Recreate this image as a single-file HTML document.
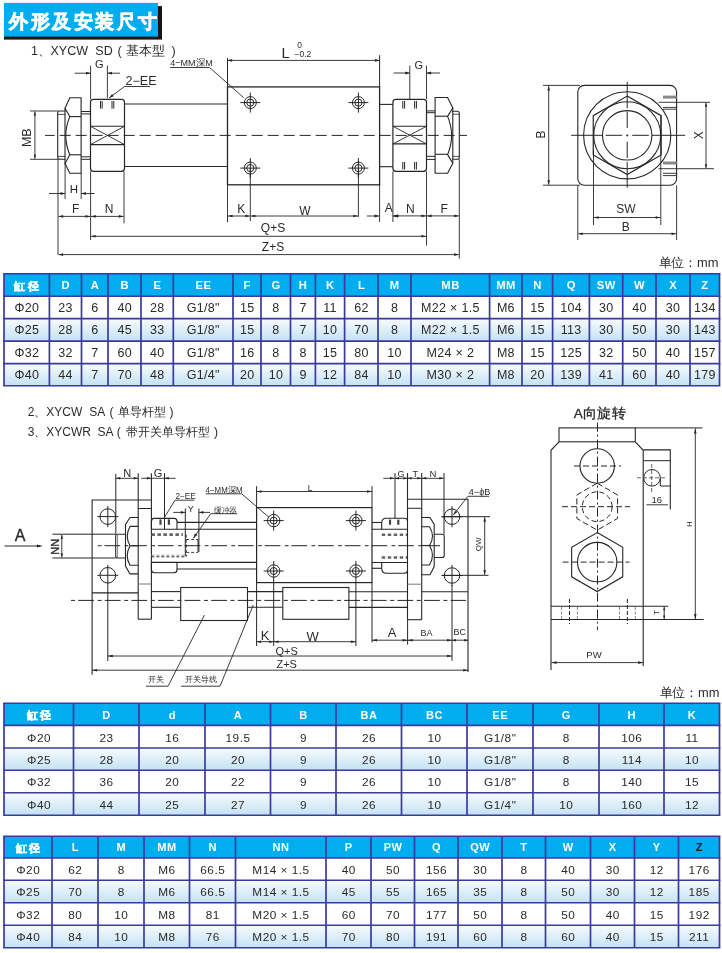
<!DOCTYPE html><html><head><meta charset="utf-8"><style>
html,body{margin:0;padding:0;background:#fff;}
body{width:722px;height:953px;overflow:hidden;}
svg{display:block;will-change:transform;font-family:"Liberation Sans",sans-serif;}
</style></head><body>
<svg width="722" height="953" viewBox="0 0 722 953">
<defs>
<linearGradient id="rowg" x1="0" y1="0" x2="0" y2="1">
<stop offset="0" stop-color="#f7fbfe"/><stop offset="1" stop-color="#c3e2f4"/>
</linearGradient>
<marker id="ar" viewBox="0 0 10 6" refX="10" refY="3" markerWidth="10" markerHeight="6" markerUnits="userSpaceOnUse" orient="auto-start-reverse"><path d="M0,0 L10,3 L0,6 z" fill="#262626"/></marker>
</defs>

<rect x="4" y="6.1" width="158" height="33.5" fill="#161616"/>
<rect x="4" y="2.9" width="154" height="33.7" fill="#00aeef"/>
<text x="9.3" y="27.9" font-size="19.4" font-weight="bold" letter-spacing="2.45" fill="#fff" stroke="#fff" stroke-width="0.7">外形及安装尺寸</text>
<text x="31" y="55" font-size="12.5" fill="#2a2a2a">1、</text>
<text x="50.5" y="55" font-size="12.5" fill="#2a2a2a">XYCW</text>
<text x="95.3" y="55" font-size="12.5" fill="#2a2a2a">SD</text>
<text x="117.5" y="55" font-size="12.5" fill="#2a2a2a">(</text>
<text x="126" y="55" font-size="12.5" fill="#2a2a2a">基本型</text>
<text x="171.5" y="55" font-size="12.5" fill="#2a2a2a">)</text>
<text x="27.8" y="416" font-size="12" fill="#2a2a2a">2、</text>
<text x="46.3" y="416" font-size="12" fill="#2a2a2a">XYCW</text>
<text x="89.2" y="416" font-size="12" fill="#2a2a2a">SA</text>
<text x="109.5" y="416" font-size="12" fill="#2a2a2a">(</text>
<text x="118" y="416" font-size="12" fill="#2a2a2a">单导杆型</text>
<text x="169.5" y="416" font-size="12" fill="#2a2a2a">)</text>
<text x="27.8" y="435.5" font-size="12" fill="#2a2a2a">3、</text>
<text x="46.3" y="435.5" font-size="12" fill="#2a2a2a">XYCWR</text>
<text x="97.5" y="435.5" font-size="12" fill="#2a2a2a">SA</text>
<text x="116.8" y="435.5" font-size="12" fill="#2a2a2a">(</text>
<text x="126.3" y="435.5" font-size="12" fill="#2a2a2a">带开关单导杆型</text>
<text x="214" y="435.5" font-size="12" fill="#2a2a2a">)</text>
<text x="658.5" y="267.3" font-size="13" textLength="60" lengthAdjust="spacingAndGlyphs" fill="#2a2a2a">单位：mm</text>
<text x="659.5" y="697" font-size="13" textLength="60" lengthAdjust="spacingAndGlyphs" fill="#2a2a2a">单位：mm</text>
<rect x="4" y="273.7" width="715.5" height="22.600000000000023" fill="#00aeef"/>
<rect x="4" y="296.3" width="715.5" height="22.30000000000001" fill="#ffffff"/>
<rect x="4" y="318.6" width="715.5" height="22.5" fill="url(#rowg)"/>
<rect x="4" y="341.1" width="715.5" height="22.5" fill="#ffffff"/>
<rect x="4" y="363.6" width="715.5" height="22.099999999999966" fill="url(#rowg)"/>
<text x="27.9" y="289.6" text-anchor="middle" font-size="10.7" font-weight="bold" letter-spacing="2.5" stroke="#ffffff" stroke-width="0.45" fill="#ffffff">缸径</text>
<text x="65.8" y="289.3" text-anchor="middle" font-size="11.2" font-weight="bold" letter-spacing="0.6" fill="#ffffff">D</text>
<text x="95.0" y="289.3" text-anchor="middle" font-size="11.2" font-weight="bold" letter-spacing="0.6" fill="#ffffff">A</text>
<text x="124.8" y="289.3" text-anchor="middle" font-size="11.2" font-weight="bold" letter-spacing="0.6" fill="#ffffff">B</text>
<text x="157.5" y="289.3" text-anchor="middle" font-size="11.2" font-weight="bold" letter-spacing="0.6" fill="#ffffff">E</text>
<text x="203.5" y="289.3" text-anchor="middle" font-size="11.2" font-weight="bold" letter-spacing="0.6" fill="#ffffff">EE</text>
<text x="247.3" y="289.3" text-anchor="middle" font-size="11.2" font-weight="bold" letter-spacing="0.6" fill="#ffffff">F</text>
<text x="276.1" y="289.3" text-anchor="middle" font-size="11.2" font-weight="bold" letter-spacing="0.6" fill="#ffffff">G</text>
<text x="303.2" y="289.3" text-anchor="middle" font-size="11.2" font-weight="bold" letter-spacing="0.6" fill="#ffffff">H</text>
<text x="330.3" y="289.3" text-anchor="middle" font-size="11.2" font-weight="bold" letter-spacing="0.6" fill="#ffffff">K</text>
<text x="361.6" y="289.3" text-anchor="middle" font-size="11.2" font-weight="bold" letter-spacing="0.6" fill="#ffffff">L</text>
<text x="394.8" y="289.3" text-anchor="middle" font-size="11.2" font-weight="bold" letter-spacing="0.6" fill="#ffffff">M</text>
<text x="450.6" y="289.3" text-anchor="middle" font-size="11.2" font-weight="bold" letter-spacing="0.6" fill="#ffffff">MB</text>
<text x="506.1" y="289.3" text-anchor="middle" font-size="11.2" font-weight="bold" letter-spacing="0.6" fill="#ffffff">MM</text>
<text x="537.6" y="289.3" text-anchor="middle" font-size="11.2" font-weight="bold" letter-spacing="0.6" fill="#ffffff">N</text>
<text x="571.3" y="289.3" text-anchor="middle" font-size="11.2" font-weight="bold" letter-spacing="0.6" fill="#ffffff">Q</text>
<text x="606.3" y="289.3" text-anchor="middle" font-size="11.2" font-weight="bold" letter-spacing="0.6" fill="#ffffff">SW</text>
<text x="639.6" y="289.3" text-anchor="middle" font-size="11.2" font-weight="bold" letter-spacing="0.6" fill="#ffffff">W</text>
<text x="673.3" y="289.3" text-anchor="middle" font-size="11.2" font-weight="bold" letter-spacing="0.6" fill="#ffffff">X</text>
<text x="705.0" y="289.3" text-anchor="middle" font-size="11.2" font-weight="bold" letter-spacing="0.6" fill="#ffffff">Z</text>
<text x="26.8" y="311.8" text-anchor="middle" font-size="12.5" letter-spacing="0.3" fill="#2a2a2a">Φ20</text>
<text x="65.6" y="311.8" text-anchor="middle" font-size="12.5" letter-spacing="0.3" fill="#2a2a2a">23</text>
<text x="94.9" y="311.8" text-anchor="middle" font-size="12.5" letter-spacing="0.3" fill="#2a2a2a">6</text>
<text x="124.7" y="311.8" text-anchor="middle" font-size="12.5" letter-spacing="0.3" fill="#2a2a2a">40</text>
<text x="157.3" y="311.8" text-anchor="middle" font-size="12.5" letter-spacing="0.3" fill="#2a2a2a">28</text>
<text x="203.3" y="311.8" text-anchor="middle" font-size="12.5" letter-spacing="0.3" fill="#2a2a2a">G1/8&quot;</text>
<text x="247.2" y="311.8" text-anchor="middle" font-size="12.5" letter-spacing="0.3" fill="#2a2a2a">15</text>
<text x="275.9" y="311.8" text-anchor="middle" font-size="12.5" letter-spacing="0.3" fill="#2a2a2a">8</text>
<text x="303.1" y="311.8" text-anchor="middle" font-size="12.5" letter-spacing="0.3" fill="#2a2a2a">7</text>
<text x="330.1" y="311.8" text-anchor="middle" font-size="12.5" letter-spacing="0.3" fill="#2a2a2a">11</text>
<text x="361.4" y="311.8" text-anchor="middle" font-size="12.5" letter-spacing="0.3" fill="#2a2a2a">62</text>
<text x="394.6" y="311.8" text-anchor="middle" font-size="12.5" letter-spacing="0.3" fill="#2a2a2a">8</text>
<text x="450.4" y="311.8" text-anchor="middle" font-size="12.5" letter-spacing="0.3" fill="#2a2a2a">M22 × 1.5</text>
<text x="505.9" y="311.8" text-anchor="middle" font-size="12.5" letter-spacing="0.3" fill="#2a2a2a">M6</text>
<text x="537.4" y="311.8" text-anchor="middle" font-size="12.5" letter-spacing="0.3" fill="#2a2a2a">15</text>
<text x="571.1" y="311.8" text-anchor="middle" font-size="12.5" letter-spacing="0.3" fill="#2a2a2a">104</text>
<text x="606.2" y="311.8" text-anchor="middle" font-size="12.5" letter-spacing="0.3" fill="#2a2a2a">30</text>
<text x="639.5" y="311.8" text-anchor="middle" font-size="12.5" letter-spacing="0.3" fill="#2a2a2a">40</text>
<text x="673.1" y="311.8" text-anchor="middle" font-size="12.5" letter-spacing="0.3" fill="#2a2a2a">30</text>
<text x="704.9" y="311.8" text-anchor="middle" font-size="12.5" letter-spacing="0.3" fill="#2a2a2a">134</text>
<text x="26.8" y="334.2" text-anchor="middle" font-size="12.5" letter-spacing="0.3" fill="#2a2a2a">Φ25</text>
<text x="65.6" y="334.2" text-anchor="middle" font-size="12.5" letter-spacing="0.3" fill="#2a2a2a">28</text>
<text x="94.9" y="334.2" text-anchor="middle" font-size="12.5" letter-spacing="0.3" fill="#2a2a2a">6</text>
<text x="124.7" y="334.2" text-anchor="middle" font-size="12.5" letter-spacing="0.3" fill="#2a2a2a">45</text>
<text x="157.3" y="334.2" text-anchor="middle" font-size="12.5" letter-spacing="0.3" fill="#2a2a2a">33</text>
<text x="203.3" y="334.2" text-anchor="middle" font-size="12.5" letter-spacing="0.3" fill="#2a2a2a">G1/8&quot;</text>
<text x="247.2" y="334.2" text-anchor="middle" font-size="12.5" letter-spacing="0.3" fill="#2a2a2a">15</text>
<text x="275.9" y="334.2" text-anchor="middle" font-size="12.5" letter-spacing="0.3" fill="#2a2a2a">8</text>
<text x="303.1" y="334.2" text-anchor="middle" font-size="12.5" letter-spacing="0.3" fill="#2a2a2a">7</text>
<text x="330.1" y="334.2" text-anchor="middle" font-size="12.5" letter-spacing="0.3" fill="#2a2a2a">10</text>
<text x="361.4" y="334.2" text-anchor="middle" font-size="12.5" letter-spacing="0.3" fill="#2a2a2a">70</text>
<text x="394.6" y="334.2" text-anchor="middle" font-size="12.5" letter-spacing="0.3" fill="#2a2a2a">8</text>
<text x="450.4" y="334.2" text-anchor="middle" font-size="12.5" letter-spacing="0.3" fill="#2a2a2a">M22 × 1.5</text>
<text x="505.9" y="334.2" text-anchor="middle" font-size="12.5" letter-spacing="0.3" fill="#2a2a2a">M6</text>
<text x="537.4" y="334.2" text-anchor="middle" font-size="12.5" letter-spacing="0.3" fill="#2a2a2a">15</text>
<text x="571.1" y="334.2" text-anchor="middle" font-size="12.5" letter-spacing="0.3" fill="#2a2a2a">113</text>
<text x="606.2" y="334.2" text-anchor="middle" font-size="12.5" letter-spacing="0.3" fill="#2a2a2a">30</text>
<text x="639.5" y="334.2" text-anchor="middle" font-size="12.5" letter-spacing="0.3" fill="#2a2a2a">50</text>
<text x="673.1" y="334.2" text-anchor="middle" font-size="12.5" letter-spacing="0.3" fill="#2a2a2a">30</text>
<text x="704.9" y="334.2" text-anchor="middle" font-size="12.5" letter-spacing="0.3" fill="#2a2a2a">143</text>
<text x="26.8" y="356.7" text-anchor="middle" font-size="12.5" letter-spacing="0.3" fill="#2a2a2a">Φ32</text>
<text x="65.6" y="356.7" text-anchor="middle" font-size="12.5" letter-spacing="0.3" fill="#2a2a2a">32</text>
<text x="94.9" y="356.7" text-anchor="middle" font-size="12.5" letter-spacing="0.3" fill="#2a2a2a">7</text>
<text x="124.7" y="356.7" text-anchor="middle" font-size="12.5" letter-spacing="0.3" fill="#2a2a2a">60</text>
<text x="157.3" y="356.7" text-anchor="middle" font-size="12.5" letter-spacing="0.3" fill="#2a2a2a">40</text>
<text x="203.3" y="356.7" text-anchor="middle" font-size="12.5" letter-spacing="0.3" fill="#2a2a2a">G1/8&quot;</text>
<text x="247.2" y="356.7" text-anchor="middle" font-size="12.5" letter-spacing="0.3" fill="#2a2a2a">16</text>
<text x="275.9" y="356.7" text-anchor="middle" font-size="12.5" letter-spacing="0.3" fill="#2a2a2a">8</text>
<text x="303.1" y="356.7" text-anchor="middle" font-size="12.5" letter-spacing="0.3" fill="#2a2a2a">8</text>
<text x="330.1" y="356.7" text-anchor="middle" font-size="12.5" letter-spacing="0.3" fill="#2a2a2a">15</text>
<text x="361.4" y="356.7" text-anchor="middle" font-size="12.5" letter-spacing="0.3" fill="#2a2a2a">80</text>
<text x="394.6" y="356.7" text-anchor="middle" font-size="12.5" letter-spacing="0.3" fill="#2a2a2a">10</text>
<text x="450.4" y="356.7" text-anchor="middle" font-size="12.5" letter-spacing="0.3" fill="#2a2a2a">M24 × 2</text>
<text x="505.9" y="356.7" text-anchor="middle" font-size="12.5" letter-spacing="0.3" fill="#2a2a2a">M8</text>
<text x="537.4" y="356.7" text-anchor="middle" font-size="12.5" letter-spacing="0.3" fill="#2a2a2a">15</text>
<text x="571.1" y="356.7" text-anchor="middle" font-size="12.5" letter-spacing="0.3" fill="#2a2a2a">125</text>
<text x="606.2" y="356.7" text-anchor="middle" font-size="12.5" letter-spacing="0.3" fill="#2a2a2a">32</text>
<text x="639.5" y="356.7" text-anchor="middle" font-size="12.5" letter-spacing="0.3" fill="#2a2a2a">50</text>
<text x="673.1" y="356.7" text-anchor="middle" font-size="12.5" letter-spacing="0.3" fill="#2a2a2a">40</text>
<text x="704.9" y="356.7" text-anchor="middle" font-size="12.5" letter-spacing="0.3" fill="#2a2a2a">157</text>
<text x="26.8" y="378.9" text-anchor="middle" font-size="12.5" letter-spacing="0.3" fill="#2a2a2a">Φ40</text>
<text x="65.6" y="378.9" text-anchor="middle" font-size="12.5" letter-spacing="0.3" fill="#2a2a2a">44</text>
<text x="94.9" y="378.9" text-anchor="middle" font-size="12.5" letter-spacing="0.3" fill="#2a2a2a">7</text>
<text x="124.7" y="378.9" text-anchor="middle" font-size="12.5" letter-spacing="0.3" fill="#2a2a2a">70</text>
<text x="157.3" y="378.9" text-anchor="middle" font-size="12.5" letter-spacing="0.3" fill="#2a2a2a">48</text>
<text x="203.3" y="378.9" text-anchor="middle" font-size="12.5" letter-spacing="0.3" fill="#2a2a2a">G1/4&quot;</text>
<text x="247.2" y="378.9" text-anchor="middle" font-size="12.5" letter-spacing="0.3" fill="#2a2a2a">20</text>
<text x="275.9" y="378.9" text-anchor="middle" font-size="12.5" letter-spacing="0.3" fill="#2a2a2a">10</text>
<text x="303.1" y="378.9" text-anchor="middle" font-size="12.5" letter-spacing="0.3" fill="#2a2a2a">9</text>
<text x="330.1" y="378.9" text-anchor="middle" font-size="12.5" letter-spacing="0.3" fill="#2a2a2a">12</text>
<text x="361.4" y="378.9" text-anchor="middle" font-size="12.5" letter-spacing="0.3" fill="#2a2a2a">84</text>
<text x="394.6" y="378.9" text-anchor="middle" font-size="12.5" letter-spacing="0.3" fill="#2a2a2a">10</text>
<text x="450.4" y="378.9" text-anchor="middle" font-size="12.5" letter-spacing="0.3" fill="#2a2a2a">M30 × 2</text>
<text x="505.9" y="378.9" text-anchor="middle" font-size="12.5" letter-spacing="0.3" fill="#2a2a2a">M8</text>
<text x="537.4" y="378.9" text-anchor="middle" font-size="12.5" letter-spacing="0.3" fill="#2a2a2a">20</text>
<text x="571.1" y="378.9" text-anchor="middle" font-size="12.5" letter-spacing="0.3" fill="#2a2a2a">139</text>
<text x="606.2" y="378.9" text-anchor="middle" font-size="12.5" letter-spacing="0.3" fill="#2a2a2a">41</text>
<text x="639.5" y="378.9" text-anchor="middle" font-size="12.5" letter-spacing="0.3" fill="#2a2a2a">60</text>
<text x="673.1" y="378.9" text-anchor="middle" font-size="12.5" letter-spacing="0.3" fill="#2a2a2a">40</text>
<text x="704.9" y="378.9" text-anchor="middle" font-size="12.5" letter-spacing="0.3" fill="#2a2a2a">179</text>
<line x1="4" y1="273.7" x2="4" y2="385.7" stroke="#3b3a9d" stroke-width="1.7"/>
<line x1="49.4" y1="273.7" x2="49.4" y2="385.7" stroke="#3b3a9d" stroke-width="1.7"/>
<line x1="81.5" y1="273.7" x2="81.5" y2="385.7" stroke="#3b3a9d" stroke-width="1.7"/>
<line x1="108" y1="273.7" x2="108" y2="385.7" stroke="#3b3a9d" stroke-width="1.7"/>
<line x1="141" y1="273.7" x2="141" y2="385.7" stroke="#3b3a9d" stroke-width="1.7"/>
<line x1="173.3" y1="273.7" x2="173.3" y2="385.7" stroke="#3b3a9d" stroke-width="1.7"/>
<line x1="233" y1="273.7" x2="233" y2="385.7" stroke="#3b3a9d" stroke-width="1.7"/>
<line x1="261" y1="273.7" x2="261" y2="385.7" stroke="#3b3a9d" stroke-width="1.7"/>
<line x1="290.5" y1="273.7" x2="290.5" y2="385.7" stroke="#3b3a9d" stroke-width="1.7"/>
<line x1="315.4" y1="273.7" x2="315.4" y2="385.7" stroke="#3b3a9d" stroke-width="1.7"/>
<line x1="344.6" y1="273.7" x2="344.6" y2="385.7" stroke="#3b3a9d" stroke-width="1.7"/>
<line x1="378" y1="273.7" x2="378" y2="385.7" stroke="#3b3a9d" stroke-width="1.7"/>
<line x1="411" y1="273.7" x2="411" y2="385.7" stroke="#3b3a9d" stroke-width="1.7"/>
<line x1="489.6" y1="273.7" x2="489.6" y2="385.7" stroke="#3b3a9d" stroke-width="1.7"/>
<line x1="522" y1="273.7" x2="522" y2="385.7" stroke="#3b3a9d" stroke-width="1.7"/>
<line x1="552.6" y1="273.7" x2="552.6" y2="385.7" stroke="#3b3a9d" stroke-width="1.7"/>
<line x1="589.4" y1="273.7" x2="589.4" y2="385.7" stroke="#3b3a9d" stroke-width="1.7"/>
<line x1="622.7" y1="273.7" x2="622.7" y2="385.7" stroke="#3b3a9d" stroke-width="1.7"/>
<line x1="656" y1="273.7" x2="656" y2="385.7" stroke="#3b3a9d" stroke-width="1.7"/>
<line x1="690" y1="273.7" x2="690" y2="385.7" stroke="#3b3a9d" stroke-width="1.7"/>
<line x1="719.5" y1="273.7" x2="719.5" y2="385.7" stroke="#3b3a9d" stroke-width="1.7"/>
<line x1="3.15" y1="273.7" x2="720.35" y2="273.7" stroke="#3b3a9d" stroke-width="1.6"/>
<line x1="3.15" y1="296.3" x2="720.35" y2="296.3" stroke="#3b3a9d" stroke-width="1.6"/>
<line x1="3.15" y1="318.6" x2="720.35" y2="318.6" stroke="#3b3a9d" stroke-width="1.6"/>
<line x1="3.15" y1="341.1" x2="720.35" y2="341.1" stroke="#3b3a9d" stroke-width="1.6"/>
<line x1="3.15" y1="363.6" x2="720.35" y2="363.6" stroke="#3b3a9d" stroke-width="1.6"/>
<line x1="3.15" y1="385.7" x2="720.35" y2="385.7" stroke="#3b3a9d" stroke-width="1.6"/>
<rect x="4" y="703.2" width="715.5" height="22.199999999999932" fill="#00aeef"/>
<rect x="4" y="725.4" width="715.5" height="22.600000000000023" fill="#ffffff"/>
<rect x="4" y="748" width="715.5" height="22.299999999999955" fill="url(#rowg)"/>
<rect x="4" y="770.3" width="715.5" height="22.40000000000009" fill="#ffffff"/>
<rect x="4" y="792.7" width="715.5" height="22.5" fill="url(#rowg)"/>
<text x="40.0" y="718.9" text-anchor="middle" font-size="10.5" font-weight="bold" letter-spacing="2.5" stroke="#ffffff" stroke-width="0.45" fill="#ffffff">缸径</text>
<text x="106.5" y="718.6" text-anchor="middle" font-size="11" font-weight="bold" letter-spacing="0.6" fill="#ffffff">D</text>
<text x="172.3" y="718.6" text-anchor="middle" font-size="11" font-weight="bold" letter-spacing="0.6" fill="#ffffff">d</text>
<text x="238.1" y="718.6" text-anchor="middle" font-size="11" font-weight="bold" letter-spacing="0.6" fill="#ffffff">A</text>
<text x="303.6" y="718.6" text-anchor="middle" font-size="11" font-weight="bold" letter-spacing="0.6" fill="#ffffff">B</text>
<text x="369.1" y="718.6" text-anchor="middle" font-size="11" font-weight="bold" letter-spacing="0.6" fill="#ffffff">BA</text>
<text x="434.6" y="718.6" text-anchor="middle" font-size="11" font-weight="bold" letter-spacing="0.6" fill="#ffffff">BC</text>
<text x="500.3" y="718.6" text-anchor="middle" font-size="11" font-weight="bold" letter-spacing="0.6" fill="#ffffff">EE</text>
<text x="566.3" y="718.6" text-anchor="middle" font-size="11" font-weight="bold" letter-spacing="0.6" fill="#ffffff">G</text>
<text x="631.8" y="718.6" text-anchor="middle" font-size="11" font-weight="bold" letter-spacing="0.6" fill="#ffffff">H</text>
<text x="692.0" y="718.6" text-anchor="middle" font-size="11" font-weight="bold" letter-spacing="0.6" fill="#ffffff">K</text>
<text x="39.0" y="741.6" text-anchor="middle" font-size="11.8" letter-spacing="0.5" fill="#2a2a2a">Φ20</text>
<text x="106.5" y="741.6" text-anchor="middle" font-size="11.8" letter-spacing="0.5" fill="#2a2a2a">23</text>
<text x="172.2" y="741.6" text-anchor="middle" font-size="11.8" letter-spacing="0.5" fill="#2a2a2a">16</text>
<text x="238.0" y="741.6" text-anchor="middle" font-size="11.8" letter-spacing="0.5" fill="#2a2a2a">19.5</text>
<text x="303.5" y="741.6" text-anchor="middle" font-size="11.8" letter-spacing="0.5" fill="#2a2a2a">9</text>
<text x="369.0" y="741.6" text-anchor="middle" font-size="11.8" letter-spacing="0.5" fill="#2a2a2a">26</text>
<text x="434.5" y="741.6" text-anchor="middle" font-size="11.8" letter-spacing="0.5" fill="#2a2a2a">10</text>
<text x="500.2" y="741.6" text-anchor="middle" font-size="11.8" letter-spacing="0.5" fill="#2a2a2a">G1/8&quot;</text>
<text x="566.2" y="741.6" text-anchor="middle" font-size="11.8" letter-spacing="0.5" fill="#2a2a2a">8</text>
<text x="631.8" y="741.6" text-anchor="middle" font-size="11.8" letter-spacing="0.5" fill="#2a2a2a">106</text>
<text x="692.0" y="741.6" text-anchor="middle" font-size="11.8" letter-spacing="0.5" fill="#2a2a2a">11</text>
<text x="39.0" y="764.0" text-anchor="middle" font-size="11.8" letter-spacing="0.5" fill="#2a2a2a">Φ25</text>
<text x="106.5" y="764.0" text-anchor="middle" font-size="11.8" letter-spacing="0.5" fill="#2a2a2a">28</text>
<text x="172.2" y="764.0" text-anchor="middle" font-size="11.8" letter-spacing="0.5" fill="#2a2a2a">20</text>
<text x="238.0" y="764.0" text-anchor="middle" font-size="11.8" letter-spacing="0.5" fill="#2a2a2a">20</text>
<text x="303.5" y="764.0" text-anchor="middle" font-size="11.8" letter-spacing="0.5" fill="#2a2a2a">9</text>
<text x="369.0" y="764.0" text-anchor="middle" font-size="11.8" letter-spacing="0.5" fill="#2a2a2a">26</text>
<text x="434.5" y="764.0" text-anchor="middle" font-size="11.8" letter-spacing="0.5" fill="#2a2a2a">10</text>
<text x="500.2" y="764.0" text-anchor="middle" font-size="11.8" letter-spacing="0.5" fill="#2a2a2a">G1/8&quot;</text>
<text x="566.2" y="764.0" text-anchor="middle" font-size="11.8" letter-spacing="0.5" fill="#2a2a2a">8</text>
<text x="631.8" y="764.0" text-anchor="middle" font-size="11.8" letter-spacing="0.5" fill="#2a2a2a">114</text>
<text x="692.0" y="764.0" text-anchor="middle" font-size="11.8" letter-spacing="0.5" fill="#2a2a2a">10</text>
<text x="39.0" y="786.4" text-anchor="middle" font-size="11.8" letter-spacing="0.5" fill="#2a2a2a">Φ32</text>
<text x="106.5" y="786.4" text-anchor="middle" font-size="11.8" letter-spacing="0.5" fill="#2a2a2a">36</text>
<text x="172.2" y="786.4" text-anchor="middle" font-size="11.8" letter-spacing="0.5" fill="#2a2a2a">20</text>
<text x="238.0" y="786.4" text-anchor="middle" font-size="11.8" letter-spacing="0.5" fill="#2a2a2a">22</text>
<text x="303.5" y="786.4" text-anchor="middle" font-size="11.8" letter-spacing="0.5" fill="#2a2a2a">9</text>
<text x="369.0" y="786.4" text-anchor="middle" font-size="11.8" letter-spacing="0.5" fill="#2a2a2a">26</text>
<text x="434.5" y="786.4" text-anchor="middle" font-size="11.8" letter-spacing="0.5" fill="#2a2a2a">10</text>
<text x="500.2" y="786.4" text-anchor="middle" font-size="11.8" letter-spacing="0.5" fill="#2a2a2a">G1/8&quot;</text>
<text x="566.2" y="786.4" text-anchor="middle" font-size="11.8" letter-spacing="0.5" fill="#2a2a2a">8</text>
<text x="631.8" y="786.4" text-anchor="middle" font-size="11.8" letter-spacing="0.5" fill="#2a2a2a">140</text>
<text x="692.0" y="786.4" text-anchor="middle" font-size="11.8" letter-spacing="0.5" fill="#2a2a2a">15</text>
<text x="39.0" y="808.9" text-anchor="middle" font-size="11.8" letter-spacing="0.5" fill="#2a2a2a">Φ40</text>
<text x="106.5" y="808.9" text-anchor="middle" font-size="11.8" letter-spacing="0.5" fill="#2a2a2a">44</text>
<text x="172.2" y="808.9" text-anchor="middle" font-size="11.8" letter-spacing="0.5" fill="#2a2a2a">25</text>
<text x="238.0" y="808.9" text-anchor="middle" font-size="11.8" letter-spacing="0.5" fill="#2a2a2a">27</text>
<text x="303.5" y="808.9" text-anchor="middle" font-size="11.8" letter-spacing="0.5" fill="#2a2a2a">9</text>
<text x="369.0" y="808.9" text-anchor="middle" font-size="11.8" letter-spacing="0.5" fill="#2a2a2a">26</text>
<text x="434.5" y="808.9" text-anchor="middle" font-size="11.8" letter-spacing="0.5" fill="#2a2a2a">10</text>
<text x="500.2" y="808.9" text-anchor="middle" font-size="11.8" letter-spacing="0.5" fill="#2a2a2a">G1/4&quot;</text>
<text x="566.2" y="808.9" text-anchor="middle" font-size="11.8" letter-spacing="0.5" fill="#2a2a2a">10</text>
<text x="631.8" y="808.9" text-anchor="middle" font-size="11.8" letter-spacing="0.5" fill="#2a2a2a">160</text>
<text x="692.0" y="808.9" text-anchor="middle" font-size="11.8" letter-spacing="0.5" fill="#2a2a2a">12</text>
<line x1="4" y1="703.2" x2="4" y2="815.2" stroke="#3b3a9d" stroke-width="1.7"/>
<line x1="73.5" y1="703.2" x2="73.5" y2="815.2" stroke="#3b3a9d" stroke-width="1.7"/>
<line x1="139" y1="703.2" x2="139" y2="815.2" stroke="#3b3a9d" stroke-width="1.7"/>
<line x1="205" y1="703.2" x2="205" y2="815.2" stroke="#3b3a9d" stroke-width="1.7"/>
<line x1="270.5" y1="703.2" x2="270.5" y2="815.2" stroke="#3b3a9d" stroke-width="1.7"/>
<line x1="336" y1="703.2" x2="336" y2="815.2" stroke="#3b3a9d" stroke-width="1.7"/>
<line x1="401.5" y1="703.2" x2="401.5" y2="815.2" stroke="#3b3a9d" stroke-width="1.7"/>
<line x1="467" y1="703.2" x2="467" y2="815.2" stroke="#3b3a9d" stroke-width="1.7"/>
<line x1="533" y1="703.2" x2="533" y2="815.2" stroke="#3b3a9d" stroke-width="1.7"/>
<line x1="599" y1="703.2" x2="599" y2="815.2" stroke="#3b3a9d" stroke-width="1.7"/>
<line x1="664" y1="703.2" x2="664" y2="815.2" stroke="#3b3a9d" stroke-width="1.7"/>
<line x1="719.5" y1="703.2" x2="719.5" y2="815.2" stroke="#3b3a9d" stroke-width="1.7"/>
<line x1="3.15" y1="703.2" x2="720.35" y2="703.2" stroke="#3b3a9d" stroke-width="1.6"/>
<line x1="3.15" y1="725.4" x2="720.35" y2="725.4" stroke="#3b3a9d" stroke-width="1.6"/>
<line x1="3.15" y1="748" x2="720.35" y2="748" stroke="#3b3a9d" stroke-width="1.6"/>
<line x1="3.15" y1="770.3" x2="720.35" y2="770.3" stroke="#3b3a9d" stroke-width="1.6"/>
<line x1="3.15" y1="792.7" x2="720.35" y2="792.7" stroke="#3b3a9d" stroke-width="1.6"/>
<line x1="3.15" y1="815.2" x2="720.35" y2="815.2" stroke="#3b3a9d" stroke-width="1.6"/>
<rect x="4" y="836.2" width="715.5" height="21.799999999999955" fill="#00aeef"/>
<rect x="4" y="858" width="715.5" height="22.299999999999955" fill="#ffffff"/>
<rect x="4" y="880.3" width="715.5" height="22.5" fill="url(#rowg)"/>
<rect x="4" y="902.8" width="715.5" height="22.40000000000009" fill="#ffffff"/>
<rect x="4" y="925.2" width="715.5" height="22.5" fill="url(#rowg)"/>
<text x="29.2" y="851.7" text-anchor="middle" font-size="10.5" font-weight="bold" letter-spacing="2.5" stroke="#ffffff" stroke-width="0.45" fill="#ffffff">缸径</text>
<text x="75.3" y="851.4" text-anchor="middle" font-size="11" font-weight="bold" letter-spacing="0.6" fill="#ffffff">L</text>
<text x="121.3" y="851.4" text-anchor="middle" font-size="11" font-weight="bold" letter-spacing="0.6" fill="#ffffff">M</text>
<text x="167.1" y="851.4" text-anchor="middle" font-size="11" font-weight="bold" letter-spacing="0.6" fill="#ffffff">MM</text>
<text x="212.8" y="851.4" text-anchor="middle" font-size="11" font-weight="bold" letter-spacing="0.6" fill="#ffffff">N</text>
<text x="281.1" y="851.4" text-anchor="middle" font-size="11" font-weight="bold" letter-spacing="0.6" fill="#ffffff">NN</text>
<text x="348.8" y="851.4" text-anchor="middle" font-size="11" font-weight="bold" letter-spacing="0.6" fill="#ffffff">P</text>
<text x="393.1" y="851.4" text-anchor="middle" font-size="11" font-weight="bold" letter-spacing="0.6" fill="#ffffff">PW</text>
<text x="436.6" y="851.4" text-anchor="middle" font-size="11" font-weight="bold" letter-spacing="0.6" fill="#ffffff">Q</text>
<text x="480.3" y="851.4" text-anchor="middle" font-size="11" font-weight="bold" letter-spacing="0.6" fill="#ffffff">QW</text>
<text x="524.0" y="851.4" text-anchor="middle" font-size="11" font-weight="bold" letter-spacing="0.6" fill="#ffffff">T</text>
<text x="568.3" y="851.4" text-anchor="middle" font-size="11" font-weight="bold" letter-spacing="0.6" fill="#ffffff">W</text>
<text x="612.8" y="851.4" text-anchor="middle" font-size="11" font-weight="bold" letter-spacing="0.6" fill="#ffffff">X</text>
<text x="656.8" y="851.4" text-anchor="middle" font-size="11" font-weight="bold" letter-spacing="0.6" fill="#ffffff">Y</text>
<text x="699.3" y="851.4" text-anchor="middle" font-size="11" font-weight="bold" letter-spacing="0.6" fill="#1a1a1a">Z</text>
<text x="28.2" y="874.0" text-anchor="middle" font-size="11.8" letter-spacing="0.5" fill="#2a2a2a">Φ20</text>
<text x="75.2" y="874.0" text-anchor="middle" font-size="11.8" letter-spacing="0.5" fill="#2a2a2a">62</text>
<text x="121.2" y="874.0" text-anchor="middle" font-size="11.8" letter-spacing="0.5" fill="#2a2a2a">8</text>
<text x="167.0" y="874.0" text-anchor="middle" font-size="11.8" letter-spacing="0.5" fill="#2a2a2a">M6</text>
<text x="212.8" y="874.0" text-anchor="middle" font-size="11.8" letter-spacing="0.5" fill="#2a2a2a">66.5</text>
<text x="281.0" y="874.0" text-anchor="middle" font-size="11.8" letter-spacing="0.5" fill="#2a2a2a">M14 × 1.5</text>
<text x="348.8" y="874.0" text-anchor="middle" font-size="11.8" letter-spacing="0.5" fill="#2a2a2a">40</text>
<text x="393.0" y="874.0" text-anchor="middle" font-size="11.8" letter-spacing="0.5" fill="#2a2a2a">50</text>
<text x="436.5" y="874.0" text-anchor="middle" font-size="11.8" letter-spacing="0.5" fill="#2a2a2a">156</text>
<text x="480.2" y="874.0" text-anchor="middle" font-size="11.8" letter-spacing="0.5" fill="#2a2a2a">30</text>
<text x="524.0" y="874.0" text-anchor="middle" font-size="11.8" letter-spacing="0.5" fill="#2a2a2a">8</text>
<text x="568.2" y="874.0" text-anchor="middle" font-size="11.8" letter-spacing="0.5" fill="#2a2a2a">40</text>
<text x="612.8" y="874.0" text-anchor="middle" font-size="11.8" letter-spacing="0.5" fill="#2a2a2a">30</text>
<text x="656.8" y="874.0" text-anchor="middle" font-size="11.8" letter-spacing="0.5" fill="#2a2a2a">12</text>
<text x="699.2" y="874.0" text-anchor="middle" font-size="11.8" letter-spacing="0.5" fill="#2a2a2a">176</text>
<text x="28.2" y="896.4" text-anchor="middle" font-size="11.8" letter-spacing="0.5" fill="#2a2a2a">Φ25</text>
<text x="75.2" y="896.4" text-anchor="middle" font-size="11.8" letter-spacing="0.5" fill="#2a2a2a">70</text>
<text x="121.2" y="896.4" text-anchor="middle" font-size="11.8" letter-spacing="0.5" fill="#2a2a2a">8</text>
<text x="167.0" y="896.4" text-anchor="middle" font-size="11.8" letter-spacing="0.5" fill="#2a2a2a">M6</text>
<text x="212.8" y="896.4" text-anchor="middle" font-size="11.8" letter-spacing="0.5" fill="#2a2a2a">66.5</text>
<text x="281.0" y="896.4" text-anchor="middle" font-size="11.8" letter-spacing="0.5" fill="#2a2a2a">M14 × 1.5</text>
<text x="348.8" y="896.4" text-anchor="middle" font-size="11.8" letter-spacing="0.5" fill="#2a2a2a">45</text>
<text x="393.0" y="896.4" text-anchor="middle" font-size="11.8" letter-spacing="0.5" fill="#2a2a2a">55</text>
<text x="436.5" y="896.4" text-anchor="middle" font-size="11.8" letter-spacing="0.5" fill="#2a2a2a">165</text>
<text x="480.2" y="896.4" text-anchor="middle" font-size="11.8" letter-spacing="0.5" fill="#2a2a2a">35</text>
<text x="524.0" y="896.4" text-anchor="middle" font-size="11.8" letter-spacing="0.5" fill="#2a2a2a">8</text>
<text x="568.2" y="896.4" text-anchor="middle" font-size="11.8" letter-spacing="0.5" fill="#2a2a2a">50</text>
<text x="612.8" y="896.4" text-anchor="middle" font-size="11.8" letter-spacing="0.5" fill="#2a2a2a">30</text>
<text x="656.8" y="896.4" text-anchor="middle" font-size="11.8" letter-spacing="0.5" fill="#2a2a2a">12</text>
<text x="699.2" y="896.4" text-anchor="middle" font-size="11.8" letter-spacing="0.5" fill="#2a2a2a">185</text>
<text x="28.2" y="918.9" text-anchor="middle" font-size="11.8" letter-spacing="0.5" fill="#2a2a2a">Φ32</text>
<text x="75.2" y="918.9" text-anchor="middle" font-size="11.8" letter-spacing="0.5" fill="#2a2a2a">80</text>
<text x="121.2" y="918.9" text-anchor="middle" font-size="11.8" letter-spacing="0.5" fill="#2a2a2a">10</text>
<text x="167.0" y="918.9" text-anchor="middle" font-size="11.8" letter-spacing="0.5" fill="#2a2a2a">M8</text>
<text x="212.8" y="918.9" text-anchor="middle" font-size="11.8" letter-spacing="0.5" fill="#2a2a2a">81</text>
<text x="281.0" y="918.9" text-anchor="middle" font-size="11.8" letter-spacing="0.5" fill="#2a2a2a">M20 × 1.5</text>
<text x="348.8" y="918.9" text-anchor="middle" font-size="11.8" letter-spacing="0.5" fill="#2a2a2a">60</text>
<text x="393.0" y="918.9" text-anchor="middle" font-size="11.8" letter-spacing="0.5" fill="#2a2a2a">70</text>
<text x="436.5" y="918.9" text-anchor="middle" font-size="11.8" letter-spacing="0.5" fill="#2a2a2a">177</text>
<text x="480.2" y="918.9" text-anchor="middle" font-size="11.8" letter-spacing="0.5" fill="#2a2a2a">50</text>
<text x="524.0" y="918.9" text-anchor="middle" font-size="11.8" letter-spacing="0.5" fill="#2a2a2a">8</text>
<text x="568.2" y="918.9" text-anchor="middle" font-size="11.8" letter-spacing="0.5" fill="#2a2a2a">50</text>
<text x="612.8" y="918.9" text-anchor="middle" font-size="11.8" letter-spacing="0.5" fill="#2a2a2a">40</text>
<text x="656.8" y="918.9" text-anchor="middle" font-size="11.8" letter-spacing="0.5" fill="#2a2a2a">15</text>
<text x="699.2" y="918.9" text-anchor="middle" font-size="11.8" letter-spacing="0.5" fill="#2a2a2a">192</text>
<text x="28.2" y="941.4" text-anchor="middle" font-size="11.8" letter-spacing="0.5" fill="#2a2a2a">Φ40</text>
<text x="75.2" y="941.4" text-anchor="middle" font-size="11.8" letter-spacing="0.5" fill="#2a2a2a">84</text>
<text x="121.2" y="941.4" text-anchor="middle" font-size="11.8" letter-spacing="0.5" fill="#2a2a2a">10</text>
<text x="167.0" y="941.4" text-anchor="middle" font-size="11.8" letter-spacing="0.5" fill="#2a2a2a">M8</text>
<text x="212.8" y="941.4" text-anchor="middle" font-size="11.8" letter-spacing="0.5" fill="#2a2a2a">76</text>
<text x="281.0" y="941.4" text-anchor="middle" font-size="11.8" letter-spacing="0.5" fill="#2a2a2a">M20 × 1.5</text>
<text x="348.8" y="941.4" text-anchor="middle" font-size="11.8" letter-spacing="0.5" fill="#2a2a2a">70</text>
<text x="393.0" y="941.4" text-anchor="middle" font-size="11.8" letter-spacing="0.5" fill="#2a2a2a">80</text>
<text x="436.5" y="941.4" text-anchor="middle" font-size="11.8" letter-spacing="0.5" fill="#2a2a2a">191</text>
<text x="480.2" y="941.4" text-anchor="middle" font-size="11.8" letter-spacing="0.5" fill="#2a2a2a">60</text>
<text x="524.0" y="941.4" text-anchor="middle" font-size="11.8" letter-spacing="0.5" fill="#2a2a2a">8</text>
<text x="568.2" y="941.4" text-anchor="middle" font-size="11.8" letter-spacing="0.5" fill="#2a2a2a">60</text>
<text x="612.8" y="941.4" text-anchor="middle" font-size="11.8" letter-spacing="0.5" fill="#2a2a2a">40</text>
<text x="656.8" y="941.4" text-anchor="middle" font-size="11.8" letter-spacing="0.5" fill="#2a2a2a">15</text>
<text x="699.2" y="941.4" text-anchor="middle" font-size="11.8" letter-spacing="0.5" fill="#2a2a2a">211</text>
<line x1="4" y1="836.2" x2="4" y2="947.7" stroke="#3b3a9d" stroke-width="1.7"/>
<line x1="52" y1="836.2" x2="52" y2="947.7" stroke="#3b3a9d" stroke-width="1.7"/>
<line x1="98" y1="836.2" x2="98" y2="947.7" stroke="#3b3a9d" stroke-width="1.7"/>
<line x1="144" y1="836.2" x2="144" y2="947.7" stroke="#3b3a9d" stroke-width="1.7"/>
<line x1="189.5" y1="836.2" x2="189.5" y2="947.7" stroke="#3b3a9d" stroke-width="1.7"/>
<line x1="235.5" y1="836.2" x2="235.5" y2="947.7" stroke="#3b3a9d" stroke-width="1.7"/>
<line x1="326" y1="836.2" x2="326" y2="947.7" stroke="#3b3a9d" stroke-width="1.7"/>
<line x1="371" y1="836.2" x2="371" y2="947.7" stroke="#3b3a9d" stroke-width="1.7"/>
<line x1="414.5" y1="836.2" x2="414.5" y2="947.7" stroke="#3b3a9d" stroke-width="1.7"/>
<line x1="458" y1="836.2" x2="458" y2="947.7" stroke="#3b3a9d" stroke-width="1.7"/>
<line x1="502" y1="836.2" x2="502" y2="947.7" stroke="#3b3a9d" stroke-width="1.7"/>
<line x1="545.5" y1="836.2" x2="545.5" y2="947.7" stroke="#3b3a9d" stroke-width="1.7"/>
<line x1="590.5" y1="836.2" x2="590.5" y2="947.7" stroke="#3b3a9d" stroke-width="1.7"/>
<line x1="634.5" y1="836.2" x2="634.5" y2="947.7" stroke="#3b3a9d" stroke-width="1.7"/>
<line x1="678.5" y1="836.2" x2="678.5" y2="947.7" stroke="#3b3a9d" stroke-width="1.7"/>
<line x1="719.5" y1="836.2" x2="719.5" y2="947.7" stroke="#3b3a9d" stroke-width="1.7"/>
<line x1="3.15" y1="836.2" x2="720.35" y2="836.2" stroke="#3b3a9d" stroke-width="1.6"/>
<line x1="3.15" y1="858" x2="720.35" y2="858" stroke="#3b3a9d" stroke-width="1.6"/>
<line x1="3.15" y1="880.3" x2="720.35" y2="880.3" stroke="#3b3a9d" stroke-width="1.6"/>
<line x1="3.15" y1="902.8" x2="720.35" y2="902.8" stroke="#3b3a9d" stroke-width="1.6"/>
<line x1="3.15" y1="925.2" x2="720.35" y2="925.2" stroke="#3b3a9d" stroke-width="1.6"/>
<line x1="3.15" y1="947.7" x2="720.35" y2="947.7" stroke="#3b3a9d" stroke-width="1.6"/>
<line x1="45" y1="135.4" x2="467" y2="135.4" stroke="#262626" stroke-width="1.0" stroke-dasharray="11,5" stroke-dashoffset="1.3"/>
<line x1="30" y1="111" x2="58" y2="111" stroke="#262626" stroke-width="0.9" />
<line x1="30" y1="159.3" x2="58" y2="159.3" stroke="#262626" stroke-width="0.9" />
<line x1="34.9" y1="111.5" x2="34.9" y2="158.8" stroke="#262626" stroke-width="0.9" />
<path d="M34.90,111.50 L36.10,115.50 L33.70,115.50 z" fill="#262626"/>
<path d="M34.90,158.80 L33.70,154.80 L36.10,154.80 z" fill="#262626"/>
<text x="0" y="0" font-size="12.5" text-anchor="middle" fill="#2a2a2a" transform="translate(31.3,137.7) rotate(-90)">MB</text>
<path d="M65.3,111 L59.7,111 Q57.7,111 57.7,113 L57.7,157.3 Q57.7,159.3 59.7,159.3 L65.3,159.3" stroke="#262626" stroke-width="1.1" fill="none" />
<line x1="58" y1="114.4" x2="65.3" y2="114.4" stroke="#262626" stroke-width="0.8" />
<line x1="58" y1="156.4" x2="65.3" y2="156.4" stroke="#262626" stroke-width="0.8" />
<path d="M81.1,97.7 L69.8,97.7 L65,108.2 L69.8,116.6 Q61.8,135.6 69.8,154.8 L65,163.5 L69.8,173.3 L81.1,173.3 Z" stroke="#262626" stroke-width="1.1" fill="none" />
<line x1="65" y1="108.2" x2="65" y2="163.5" stroke="#262626" stroke-width="1.1" />
<line x1="69.8" y1="116.6" x2="81.1" y2="116.6" stroke="#262626" stroke-width="1.1" />
<line x1="69.8" y1="154.8" x2="81.1" y2="154.8" stroke="#262626" stroke-width="1.1" />
<line x1="81.1" y1="111.5" x2="90.1" y2="111.5" stroke="#262626" stroke-width="1" />
<line x1="81.1" y1="113.9" x2="90.1" y2="113.9" stroke="#262626" stroke-width="1" />
<line x1="81.1" y1="156.8" x2="90.1" y2="156.8" stroke="#262626" stroke-width="1" />
<line x1="81.1" y1="159.3" x2="90.1" y2="159.3" stroke="#262626" stroke-width="1" />
<rect x="90.5" y="99.3" width="34.0" height="72.00000000000001" rx="3" stroke="#262626" stroke-width="1.2" fill="none" />
<line x1="90.5" y1="126.3" x2="124.5" y2="126.3" stroke="#262626" stroke-width="1.1" />
<line x1="90.5" y1="144.6" x2="124.5" y2="144.6" stroke="#262626" stroke-width="1.1" />
<line x1="90.5" y1="126.3" x2="124.5" y2="144.6" stroke="#262626" stroke-width="0.9" />
<line x1="90.5" y1="144.6" x2="124.5" y2="126.3" stroke="#262626" stroke-width="0.9" />
<line x1="100.5" y1="101" x2="100.5" y2="108.6" stroke="#262626" stroke-width="1.0" />
<line x1="102.2" y1="101" x2="102.2" y2="108.6" stroke="#262626" stroke-width="1.0" />
<line x1="112" y1="101" x2="112" y2="108.6" stroke="#262626" stroke-width="1.0" />
<line x1="113.8" y1="101" x2="113.8" y2="108.6" stroke="#262626" stroke-width="1.0" />
<line x1="124.5" y1="104" x2="227.5" y2="104" stroke="#262626" stroke-width="1.1" />
<line x1="124.5" y1="166.5" x2="227.5" y2="166.5" stroke="#262626" stroke-width="1.1" />
<rect x="227.5" y="86.9" width="152.10000000000002" height="97.9" rx="0" stroke="#262626" stroke-width="1.3" fill="none" />
<circle cx="250.3" cy="102.6" r="6" stroke="#262626" stroke-width="1.0" fill="none" />
<circle cx="250.3" cy="102.6" r="3.6" stroke="#262626" stroke-width="1.0" fill="none" />
<line x1="240.3" y1="102.6" x2="260.3" y2="102.6" stroke="#262626" stroke-width="1.0" />
<line x1="250.3" y1="92.6" x2="250.3" y2="112.6" stroke="#262626" stroke-width="1.0" />
<circle cx="358.4" cy="102.6" r="6" stroke="#262626" stroke-width="1.0" fill="none" />
<circle cx="358.4" cy="102.6" r="3.6" stroke="#262626" stroke-width="1.0" fill="none" />
<line x1="348.4" y1="102.6" x2="368.4" y2="102.6" stroke="#262626" stroke-width="1.0" />
<line x1="358.4" y1="92.6" x2="358.4" y2="112.6" stroke="#262626" stroke-width="1.0" />
<circle cx="250.3" cy="168.1" r="6" stroke="#262626" stroke-width="1.0" fill="none" />
<circle cx="250.3" cy="168.1" r="3.6" stroke="#262626" stroke-width="1.0" fill="none" />
<line x1="240.3" y1="168.1" x2="260.3" y2="168.1" stroke="#262626" stroke-width="1.0" />
<line x1="250.3" y1="158.1" x2="250.3" y2="178.1" stroke="#262626" stroke-width="1.0" />
<circle cx="358.4" cy="168.1" r="6" stroke="#262626" stroke-width="1.0" fill="none" />
<circle cx="358.4" cy="168.1" r="3.6" stroke="#262626" stroke-width="1.0" fill="none" />
<line x1="348.4" y1="168.1" x2="368.4" y2="168.1" stroke="#262626" stroke-width="1.0" />
<line x1="358.4" y1="158.1" x2="358.4" y2="178.1" stroke="#262626" stroke-width="1.0" />
<line x1="379.6" y1="104.4" x2="392.9" y2="104.4" stroke="#262626" stroke-width="1.1" />
<line x1="379.6" y1="166.7" x2="392.9" y2="166.7" stroke="#262626" stroke-width="1.1" />
<rect x="392.9" y="99.3" width="33.60000000000002" height="72.00000000000001" rx="3" stroke="#262626" stroke-width="1.2" fill="none" />
<line x1="392.9" y1="126.3" x2="426.5" y2="126.3" stroke="#262626" stroke-width="1.1" />
<line x1="392.9" y1="143.9" x2="426.5" y2="143.9" stroke="#262626" stroke-width="1.1" />
<line x1="392.9" y1="126.3" x2="426.5" y2="143.9" stroke="#262626" stroke-width="0.9" />
<line x1="392.9" y1="143.9" x2="426.5" y2="126.3" stroke="#262626" stroke-width="0.9" />
<line x1="402.8" y1="101" x2="402.8" y2="108.6" stroke="#262626" stroke-width="1.0" />
<line x1="402.8" y1="162" x2="402.8" y2="169.5" stroke="#262626" stroke-width="1.0" />
<line x1="404.6" y1="101" x2="404.6" y2="108.6" stroke="#262626" stroke-width="1.0" />
<line x1="404.6" y1="162" x2="404.6" y2="169.5" stroke="#262626" stroke-width="1.0" />
<line x1="414.6" y1="101" x2="414.6" y2="108.6" stroke="#262626" stroke-width="1.0" />
<line x1="414.6" y1="162" x2="414.6" y2="169.5" stroke="#262626" stroke-width="1.0" />
<line x1="416.4" y1="101" x2="416.4" y2="108.6" stroke="#262626" stroke-width="1.0" />
<line x1="416.4" y1="162" x2="416.4" y2="169.5" stroke="#262626" stroke-width="1.0" />
<line x1="426.5" y1="110.9" x2="435.1" y2="110.9" stroke="#262626" stroke-width="1" />
<line x1="426.5" y1="112.7" x2="435.1" y2="112.7" stroke="#262626" stroke-width="1" />
<line x1="426.5" y1="156.3" x2="435.1" y2="156.3" stroke="#262626" stroke-width="1" />
<line x1="426.5" y1="159.4" x2="435.1" y2="159.4" stroke="#262626" stroke-width="1" />
<path d="M435.1,97.5 L447.6,97.5 L452.8,108 L447.6,116.4 Q455.6,135.6 447.6,154.6 L452.8,163.2 L447.6,173.2 L435.1,173.2 Z" stroke="#262626" stroke-width="1.1" fill="none" />
<line x1="452.8" y1="107.9" x2="452.8" y2="163" stroke="#262626" stroke-width="1.1" />
<line x1="435.1" y1="116.2" x2="447.6" y2="116.2" stroke="#262626" stroke-width="1.1" />
<line x1="435.1" y1="154.3" x2="447.6" y2="154.3" stroke="#262626" stroke-width="1.1" />
<path d="M452.4,111.3 L457.3,111.3 Q459.3,111.3 459.3,113.3 L459.3,157.3 Q459.3,159.3 457.3,159.3 L452.4,159.3" stroke="#262626" stroke-width="1.1" fill="none" />
<line x1="452.6" y1="114.2" x2="459" y2="114.2" stroke="#262626" stroke-width="0.8" />
<line x1="452.6" y1="156.4" x2="459" y2="156.4" stroke="#262626" stroke-width="0.8" />
<line x1="90.6" y1="65.6" x2="90.6" y2="99.3" stroke="#262626" stroke-width="0.9" />
<line x1="107.4" y1="65.6" x2="107.4" y2="98.2" stroke="#262626" stroke-width="0.9" />
<line x1="74.6" y1="73.2" x2="90.6" y2="73.2" stroke="#262626" stroke-width="0.9" />
<path d="M90.60,73.20 L86.00,74.60 L86.00,71.80 z" fill="#262626"/>
<line x1="107.4" y1="73.2" x2="120" y2="73.2" stroke="#262626" stroke-width="0.9" />
<path d="M107.40,73.20 L112.00,71.80 L112.00,74.60 z" fill="#262626"/>
<text x="99.3" y="68" font-size="11" text-anchor="middle" fill="#2a2a2a" >G</text>
<line x1="109.2" y1="97.9" x2="124.5" y2="86.5" stroke="#262626" stroke-width="0.9" />
<path d="M109.20,97.90 L112.05,94.03 L113.73,96.27 z" fill="#262626"/>
<line x1="124.5" y1="86.5" x2="150" y2="86.5" stroke="#262626" stroke-width="0.9" />
<text x="125.5" y="84.5" font-size="12" text-anchor="start" fill="#2a2a2a" textLength="31" lengthAdjust="spacingAndGlyphs">2−EE</text>
<text x="170.2" y="65.5" font-size="9.5" text-anchor="start" fill="#2a2a2a" textLength="42.5" lengthAdjust="spacingAndGlyphs">4−MM深M</text>
<line x1="170.2" y1="67.5" x2="209.6" y2="67.5" stroke="#262626" stroke-width="0.9" />
<line x1="209.6" y1="67.5" x2="243.7" y2="97.7" stroke="#262626" stroke-width="0.9" />
<line x1="227.5" y1="57.9" x2="227.5" y2="86.9" stroke="#262626" stroke-width="1.0" />
<line x1="379.6" y1="55.2" x2="379.6" y2="86.9" stroke="#262626" stroke-width="1.0" />
<line x1="227.5" y1="60.4" x2="379.6" y2="60.4" stroke="#262626" stroke-width="0.9" />
<path d="M227.50,60.40 L232.10,59.10 L232.10,61.70 z" fill="#262626"/>
<path d="M379.60,60.40 L375.00,61.70 L375.00,59.10 z" fill="#262626"/>
<text x="281.5" y="58.2" font-size="15" text-anchor="start" fill="#2a2a2a" >L</text>
<text x="299.5" y="48" font-size="8.5" text-anchor="middle" fill="#2a2a2a" >0</text>
<text x="294.5" y="56.5" font-size="8.5" text-anchor="start" fill="#2a2a2a" >−0.2</text>
<line x1="409.8" y1="65.6" x2="409.8" y2="99.3" stroke="#262626" stroke-width="0.9" />
<line x1="426.5" y1="65.6" x2="426.5" y2="99.3" stroke="#262626" stroke-width="0.9" />
<line x1="393.5" y1="73" x2="409.8" y2="73" stroke="#262626" stroke-width="0.9" />
<path d="M409.80,73.00 L405.20,74.40 L405.20,71.60 z" fill="#262626"/>
<line x1="426.5" y1="73" x2="440" y2="73" stroke="#262626" stroke-width="0.9" />
<path d="M426.50,73.00 L431.10,71.60 L431.10,74.40 z" fill="#262626"/>
<text x="418.8" y="69" font-size="11" text-anchor="middle" fill="#2a2a2a" >G</text>
<line x1="65.1" y1="163" x2="65.1" y2="199" stroke="#262626" stroke-width="0.9" />
<line x1="81.2" y1="173" x2="81.2" y2="199" stroke="#262626" stroke-width="0.9" />
<line x1="49" y1="193.5" x2="65.1" y2="193.5" stroke="#262626" stroke-width="0.9" />
<path d="M65.10,193.50 L60.50,194.90 L60.50,192.10 z" fill="#262626"/>
<line x1="81.2" y1="193.5" x2="94.7" y2="193.5" stroke="#262626" stroke-width="0.9" />
<path d="M81.20,193.50 L85.80,192.10 L85.80,194.90 z" fill="#262626"/>
<text x="74" y="193.3" font-size="11.5" text-anchor="middle" fill="#2a2a2a" >H</text>
<line x1="58" y1="159.3" x2="58" y2="254.8" stroke="#262626" stroke-width="0.9" />
<line x1="90.6" y1="171.3" x2="90.6" y2="240" stroke="#262626" stroke-width="0.9" />
<line x1="124" y1="171.3" x2="124" y2="223.3" stroke="#262626" stroke-width="0.9" />
<line x1="227.5" y1="184.8" x2="227.5" y2="222.2" stroke="#262626" stroke-width="0.9" />
<line x1="379.6" y1="184.8" x2="379.6" y2="222" stroke="#262626" stroke-width="0.9" />
<line x1="392.9" y1="171.3" x2="392.9" y2="222" stroke="#262626" stroke-width="0.9" />
<line x1="426.5" y1="171.3" x2="426.5" y2="245.6" stroke="#262626" stroke-width="0.9" />
<line x1="459.3" y1="159.3" x2="459.3" y2="258.8" stroke="#262626" stroke-width="0.9" />
<line x1="250.3" y1="168.1" x2="250.3" y2="221" stroke="#262626" stroke-width="0.9" />
<line x1="358.4" y1="168.1" x2="358.4" y2="217" stroke="#262626" stroke-width="0.9" />
<line x1="58.5" y1="216.4" x2="90.1" y2="216.4" stroke="#262626" stroke-width="0.9" />
<path d="M58.50,216.40 L63.10,215.10 L63.10,217.70 z" fill="#262626"/>
<path d="M90.10,216.40 L85.50,217.70 L85.50,215.10 z" fill="#262626"/>
<text x="75.7" y="213" font-size="12" text-anchor="middle" fill="#2a2a2a" >F</text>
<line x1="91.1" y1="216.4" x2="123.5" y2="216.4" stroke="#262626" stroke-width="0.9" />
<path d="M91.10,216.40 L95.70,215.10 L95.70,217.70 z" fill="#262626"/>
<path d="M123.50,216.40 L118.90,217.70 L118.90,215.10 z" fill="#262626"/>
<text x="109" y="213" font-size="12" text-anchor="middle" fill="#2a2a2a" >N</text>
<line x1="228" y1="216" x2="249.8" y2="216" stroke="#262626" stroke-width="0.9" />
<path d="M228.00,216.00 L232.60,214.70 L232.60,217.30 z" fill="#262626"/>
<path d="M249.80,216.00 L245.20,217.30 L245.20,214.70 z" fill="#262626"/>
<text x="241.2" y="212.7" font-size="12" text-anchor="middle" fill="#2a2a2a" >K</text>
<line x1="250.8" y1="216" x2="357.9" y2="216" stroke="#262626" stroke-width="0.9" />
<path d="M250.80,216.00 L255.40,214.70 L255.40,217.30 z" fill="#262626"/>
<path d="M357.90,216.00 L353.30,217.30 L353.30,214.70 z" fill="#262626"/>
<text x="305" y="215" font-size="12" text-anchor="middle" fill="#2a2a2a" >W</text>
<line x1="367" y1="216" x2="379.1" y2="216" stroke="#262626" stroke-width="0.9" />
<path d="M379.10,216.00 L374.50,217.40 L374.50,214.60 z" fill="#262626"/>
<line x1="392.9" y1="216" x2="399" y2="216" stroke="#262626" stroke-width="0.9" />
<path d="M393.40,216.00 L398.00,214.60 L398.00,217.40 z" fill="#262626"/>
<text x="388.7" y="212.3" font-size="12" text-anchor="middle" fill="#2a2a2a" >A</text>
<line x1="393.4" y1="215.9" x2="426" y2="215.9" stroke="#262626" stroke-width="0.9" />
<path d="M393.40,215.90 L398.00,214.60 L398.00,217.20 z" fill="#262626"/>
<path d="M426.00,215.90 L421.40,217.20 L421.40,214.60 z" fill="#262626"/>
<text x="410.4" y="212.6" font-size="12" text-anchor="middle" fill="#2a2a2a" >N</text>
<line x1="427" y1="215.9" x2="458.8" y2="215.9" stroke="#262626" stroke-width="0.9" />
<path d="M427.00,215.90 L431.60,214.60 L431.60,217.20 z" fill="#262626"/>
<path d="M458.80,215.90 L454.20,217.20 L454.20,214.60 z" fill="#262626"/>
<text x="444.1" y="212.6" font-size="12" text-anchor="middle" fill="#2a2a2a" >F</text>
<line x1="91.1" y1="236.3" x2="426" y2="236.3" stroke="#262626" stroke-width="0.9" />
<path d="M91.10,236.30 L95.70,235.00 L95.70,237.60 z" fill="#262626"/>
<path d="M426.00,236.30 L421.40,237.60 L421.40,235.00 z" fill="#262626"/>
<text x="273" y="231.5" font-size="12" text-anchor="middle" fill="#2a2a2a" >Q+S</text>
<line x1="58.5" y1="254.6" x2="458.8" y2="254.6" stroke="#262626" stroke-width="0.9" />
<path d="M58.50,254.60 L63.10,253.30 L63.10,255.90 z" fill="#262626"/>
<path d="M458.80,254.60 L454.20,255.90 L454.20,253.30 z" fill="#262626"/>
<text x="273" y="250.5" font-size="12" text-anchor="middle" fill="#2a2a2a" >Z+S</text>
<rect x="577.8" y="85.4" width="98.80000000000007" height="99.79999999999998" rx="6.5" stroke="#262626" stroke-width="1.1" fill="none" />
<circle cx="627.2" cy="135.3" r="43.6" stroke="#262626" stroke-width="1.1" fill="none" />
<path d="M627.20,96.10 L661.15,115.70 L661.15,154.90 L627.20,174.50 L593.25,154.90 L593.25,115.70 Z" stroke="#262626" stroke-width="1.2" fill="none" />
<circle cx="627.2" cy="135.3" r="33.5" stroke="#262626" stroke-width="1.1" fill="none" />
<circle cx="627.2" cy="135.3" r="24.7" stroke="#262626" stroke-width="1.1" fill="none" />
<line x1="571.2" y1="135.3" x2="602.4000000000001" y2="135.3" stroke="#262626" stroke-width="1.0" />
<line x1="605.6" y1="135.3" x2="622.2" y2="135.3" stroke="#262626" stroke-width="1.0" />
<line x1="626.2" y1="135.3" x2="628.2" y2="135.3" stroke="#262626" stroke-width="1.0" />
<line x1="632.2" y1="135.3" x2="648.8000000000001" y2="135.3" stroke="#262626" stroke-width="1.0" />
<line x1="652.0" y1="135.3" x2="685.2" y2="135.3" stroke="#262626" stroke-width="1.0" />
<line x1="627.2" y1="81.80000000000001" x2="627.2" y2="108.30000000000001" stroke="#262626" stroke-width="1.0" />
<line x1="627.2" y1="111.50000000000001" x2="627.2" y2="127.9" stroke="#262626" stroke-width="1.0" />
<line x1="627.2" y1="134.5" x2="627.2" y2="136.5" stroke="#262626" stroke-width="1.0" />
<line x1="627.2" y1="141.70000000000002" x2="627.2" y2="158.0" stroke="#262626" stroke-width="1.0" />
<line x1="627.2" y1="161.9" x2="627.2" y2="187.70000000000002" stroke="#262626" stroke-width="1.0" />
<line x1="663" y1="97.1" x2="676.6" y2="97.1" stroke="#888" stroke-width="3" />
<line x1="663" y1="107.4" x2="676.6" y2="107.4" stroke="#262626" stroke-width="0.9" />
<line x1="663" y1="109.2" x2="676.6" y2="109.2" stroke="#262626" stroke-width="0.9" />
<line x1="663" y1="163" x2="676.6" y2="163" stroke="#888" stroke-width="3" />
<line x1="663" y1="173.3" x2="676.6" y2="173.3" stroke="#262626" stroke-width="0.9" />
<line x1="663" y1="175.6" x2="676.6" y2="175.6" stroke="#262626" stroke-width="0.9" />
<line x1="658.5" y1="102.3" x2="710" y2="102.3" stroke="#262626" stroke-width="0.9" />
<line x1="658.5" y1="168.7" x2="714" y2="168.7" stroke="#262626" stroke-width="0.9" />
<line x1="706" y1="102.8" x2="706" y2="168.2" stroke="#262626" stroke-width="0.9" />
<path d="M706.00,102.80 L707.20,106.80 L704.80,106.80 z" fill="#262626"/>
<path d="M706.00,168.20 L704.80,164.20 L707.20,164.20 z" fill="#262626"/>
<text x="0" y="0" font-size="12" text-anchor="middle" fill="#2a2a2a" transform="translate(702.5,135.2) rotate(-90)">X</text>
<line x1="543" y1="85.4" x2="580" y2="85.4" stroke="#262626" stroke-width="0.9" />
<line x1="543" y1="185.2" x2="580" y2="185.2" stroke="#262626" stroke-width="0.9" />
<line x1="548.7" y1="86" x2="548.7" y2="184.7" stroke="#262626" stroke-width="0.9" />
<path d="M548.70,86.00 L550.00,90.50 L547.40,90.50 z" fill="#262626"/>
<path d="M548.70,184.70 L547.40,180.20 L550.00,180.20 z" fill="#262626"/>
<text x="0" y="0" font-size="12" text-anchor="middle" fill="#2a2a2a" transform="translate(544.8,134.5) rotate(-90)">B</text>
<line x1="593.5" y1="150" x2="593.5" y2="225" stroke="#262626" stroke-width="0.9" />
<line x1="660.8" y1="115.8" x2="660.8" y2="225" stroke="#262626" stroke-width="0.9" />
<line x1="594" y1="217.5" x2="660.3" y2="217.5" stroke="#262626" stroke-width="0.9" />
<path d="M594.00,217.50 L598.60,216.20 L598.60,218.80 z" fill="#262626"/>
<path d="M660.30,217.50 L655.70,218.80 L655.70,216.20 z" fill="#262626"/>
<text x="626" y="212.7" font-size="12" text-anchor="middle" fill="#2a2a2a" >SW</text>
<line x1="577.8" y1="185.2" x2="577.8" y2="240" stroke="#262626" stroke-width="0.9" />
<line x1="676.6" y1="185.2" x2="676.6" y2="240" stroke="#262626" stroke-width="0.9" />
<line x1="578.3" y1="233.7" x2="676.1" y2="233.7" stroke="#262626" stroke-width="0.9" />
<path d="M578.30,233.70 L582.90,232.40 L582.90,235.00 z" fill="#262626"/>
<path d="M676.10,233.70 L671.50,235.00 L671.50,232.40 z" fill="#262626"/>
<text x="625.7" y="231.2" font-size="12" text-anchor="middle" fill="#2a2a2a" >B</text>
<line x1="4.5" y1="546" x2="40" y2="546" stroke="#262626" stroke-width="1.0" />
<path d="M42.90,546.00 L36.90,547.60 L36.90,544.40 z" fill="#262626"/>
<text x="20" y="540.5" font-size="16" text-anchor="middle" fill="#2a2a2a" stroke="#2a2a2a" stroke-width="0.3">A</text>
<line x1="52.4" y1="534.2" x2="115.7" y2="534.2" stroke="#262626" stroke-width="1.0" />
<line x1="52.4" y1="558" x2="115.7" y2="558" stroke="#262626" stroke-width="1.0" />
<line x1="61.8" y1="534.7" x2="61.8" y2="557.5" stroke="#262626" stroke-width="0.9" />
<path d="M61.80,534.70 L63.00,538.70 L60.60,538.70 z" fill="#262626"/>
<path d="M61.80,557.50 L60.60,553.50 L63.00,553.50 z" fill="#262626"/>
<text x="0" y="0" font-size="11" text-anchor="middle" fill="#2a2a2a" transform="translate(58.8,546.8) rotate(-90)" stroke="#2a2a2a" stroke-width="0.35">NN</text>
<path d="M151.4,500 L92.1,500 L92.1,674.7" stroke="#262626" stroke-width="1.1" fill="none" />
<line x1="92.1" y1="592.9" x2="138.2" y2="592.9" stroke="#262626" stroke-width="1.1" />
<circle cx="107.8" cy="516.6" r="7.8" stroke="#262626" stroke-width="1.0" fill="none" />
<line x1="97.3" y1="516.6" x2="118.3" y2="516.6" stroke="#262626" stroke-width="1.0" />
<line x1="107.8" y1="506.1" x2="107.8" y2="527.1" stroke="#262626" stroke-width="1.0" />
<circle cx="107.8" cy="575.3" r="7.8" stroke="#262626" stroke-width="1.0" fill="none" />
<line x1="97.3" y1="575.3" x2="118.3" y2="575.3" stroke="#262626" stroke-width="1.0" />
<line x1="107.8" y1="564.8" x2="107.8" y2="585.8" stroke="#262626" stroke-width="1.0" />
<line x1="107.8" y1="585.8" x2="107.8" y2="661" stroke="#262626" stroke-width="1.0" />
<line x1="138.2" y1="473.2" x2="138.2" y2="619.2" stroke="#262626" stroke-width="1.1" />
<line x1="151.4" y1="473.2" x2="151.4" y2="619.2" stroke="#262626" stroke-width="1.1" />
<line x1="138.2" y1="619.2" x2="151.4" y2="619.2" stroke="#262626" stroke-width="1.1" />
<line x1="138.2" y1="508.5" x2="151.4" y2="508.5" stroke="#262626" stroke-width="1.0" />
<line x1="138.2" y1="584" x2="151.4" y2="584" stroke="#777" stroke-width="1.0" />
<line x1="115.8" y1="473.9" x2="115.8" y2="534.2" stroke="#262626" stroke-width="1.0" />
<path d="M125.5,534.2 L117.7,534.2 Q115.7,534.2 115.7,536.2 L115.7,556 Q115.7,558 117.7,558 L125.5,558" stroke="#262626" stroke-width="1.1" fill="none" />
<line x1="117.6" y1="535" x2="117.6" y2="557" stroke="#888" stroke-width="1.0" />
<path d="M138.2,517.5 L130,517.5 L125.5,524.4 L125.5,566 L130,573.9 L138.2,573.9" stroke="#262626" stroke-width="1.1" fill="none" />
<path d="M138.2,526.4 L130,526.4 Q124.5,536 130,545.8 Q124.5,556 130,565.3 L138.2,565.3" stroke="#262626" stroke-width="1.1" fill="none" />
<line x1="130" y1="545.8" x2="138.2" y2="545.8" stroke="#262626" stroke-width="1.1" />
<path d="M151.4,529.2 L151.4,521.4 Q151.4,518.4 154.4,518.4 L174,518.4 Q177,518.4 177,521.4 L177,529.2" stroke="#262626" stroke-width="1.1" fill="none" />
<path d="M151.4,562.4 L151.4,569.8 Q151.4,572.8 154.4,572.8 L174,572.8 Q177,572.8 177,569.8 L177,562.4" stroke="#262626" stroke-width="1.1" fill="none" />
<line x1="160.5" y1="519.4" x2="160.5" y2="524.8" stroke="#444" stroke-width="2.2" />
<line x1="168.9" y1="519.4" x2="168.9" y2="524.8" stroke="#444" stroke-width="2.2" />
<line x1="151.4" y1="529.2" x2="256.6" y2="529.2" stroke="#262626" stroke-width="1.1" />
<line x1="151.4" y1="562.4" x2="256.6" y2="562.4" stroke="#262626" stroke-width="1.1" />
<line x1="177" y1="522.4" x2="256.6" y2="522.4" stroke="#262626" stroke-width="1.1" />
<line x1="177" y1="569" x2="256.6" y2="569" stroke="#262626" stroke-width="1.1" />
<line x1="151.4" y1="534.6" x2="183" y2="534.6" stroke="#666" stroke-width="2.6" stroke-dasharray="3.5,2.5"/>
<line x1="186.2" y1="534.6" x2="186.2" y2="556.8" stroke="#262626" stroke-width="1.0" stroke-dasharray="3,2"/>
<line x1="151.4" y1="556.8" x2="186.2" y2="556.8" stroke="#262626" stroke-width="1.0" stroke-dasharray="3,2"/>
<line x1="151.4" y1="555.2" x2="186.2" y2="555.2" stroke="#999" stroke-width="1.0" stroke-dasharray="3,2"/>
<line x1="186.2" y1="539.5" x2="198" y2="539.5" stroke="#262626" stroke-width="0.9" stroke-dasharray="3,2"/>
<line x1="186.2" y1="552.4" x2="198" y2="552.4" stroke="#262626" stroke-width="0.9" stroke-dasharray="3,2"/>
<line x1="198" y1="539.5" x2="198" y2="552.4" stroke="#262626" stroke-width="1.0" />
<line x1="164.5" y1="473.2" x2="164.5" y2="529.2" stroke="#262626" stroke-width="1.0" />
<line x1="185.3" y1="508.5" x2="185.3" y2="556" stroke="#262626" stroke-width="1.0" />
<line x1="198.9" y1="508.5" x2="198.9" y2="552" stroke="#262626" stroke-width="1.0" />
<line x1="173.3" y1="512.4" x2="185.3" y2="512.4" stroke="#262626" stroke-width="0.9" />
<path d="M185.30,512.40 L180.80,513.70 L180.80,511.10 z" fill="#262626"/>
<line x1="198.9" y1="512.4" x2="210" y2="512.4" stroke="#262626" stroke-width="0.9" />
<path d="M198.90,512.40 L203.40,511.10 L203.40,513.70 z" fill="#262626"/>
<text x="190.8" y="511.5" font-size="9" text-anchor="middle" fill="#2a2a2a" >Y</text>
<line x1="115.8" y1="478.3" x2="138.2" y2="478.3" stroke="#262626" stroke-width="0.9" />
<path d="M115.80,478.30 L120.30,477.00 L120.30,479.60 z" fill="#262626"/>
<path d="M138.20,478.30 L133.70,479.60 L133.70,477.00 z" fill="#262626"/>
<text x="127.2" y="476.5" font-size="11" text-anchor="middle" fill="#2a2a2a" >N</text>
<line x1="141.3" y1="478.3" x2="151.4" y2="478.3" stroke="#262626" stroke-width="0.9" />
<path d="M151.40,478.30 L146.90,479.60 L146.90,477.00 z" fill="#262626"/>
<line x1="151.4" y1="478.3" x2="164.3" y2="478.3" stroke="#262626" stroke-width="0.9" />
<line x1="164.3" y1="478.3" x2="175.6" y2="478.3" stroke="#262626" stroke-width="0.9" />
<path d="M164.30,478.30 L168.80,477.00 L168.80,479.60 z" fill="#262626"/>
<text x="158" y="476.5" font-size="11" text-anchor="middle" fill="#2a2a2a" >G</text>
<text x="175.4" y="498.5" font-size="8.5" text-anchor="start" fill="#2a2a2a" textLength="20.5" lengthAdjust="spacingAndGlyphs">2−EE</text>
<line x1="175" y1="500.2" x2="194.3" y2="500.2" stroke="#262626" stroke-width="0.9" />
<line x1="175" y1="500.2" x2="164.8" y2="516.8" stroke="#262626" stroke-width="0.9" />
<text x="213.8" y="513" font-size="8" text-anchor="start" fill="#2a2a2a" textLength="23.2" lengthAdjust="spacingAndGlyphs">缓冲器</text>
<line x1="210.8" y1="513.7" x2="237" y2="513.7" stroke="#262626" stroke-width="0.9" />
<line x1="210.8" y1="513.7" x2="193.3" y2="538.3" stroke="#262626" stroke-width="0.9" />
<path d="M193.30,538.30 L194.98,533.36 L197.42,535.10 z" fill="#262626"/>
<text x="205.6" y="492.8" font-size="8.5" text-anchor="start" fill="#2a2a2a" textLength="37" lengthAdjust="spacingAndGlyphs">4−MM深M</text>
<line x1="205.8" y1="493.8" x2="241.7" y2="493.8" stroke="#262626" stroke-width="0.9" />
<line x1="241.7" y1="493.8" x2="269.2" y2="517.5" stroke="#262626" stroke-width="0.9" />
<rect x="256.6" y="507.6" width="115.39999999999998" height="75.0" rx="0" stroke="#262626" stroke-width="1.2" fill="none" />
<line x1="256.6" y1="486.2" x2="256.6" y2="507.6" stroke="#262626" stroke-width="1.0" />
<line x1="372" y1="486.2" x2="372" y2="507.6" stroke="#262626" stroke-width="1.0" />
<line x1="256.6" y1="491.5" x2="372" y2="491.5" stroke="#262626" stroke-width="0.9" />
<path d="M256.60,491.50 L261.60,490.20 L261.60,492.80 z" fill="#262626"/>
<path d="M372.00,491.50 L367.00,492.80 L367.00,490.20 z" fill="#262626"/>
<text x="310" y="490.5" font-size="8.5" text-anchor="middle" fill="#2a2a2a" >L</text>
<circle cx="273.7" cy="520.6" r="6.2" stroke="#262626" stroke-width="1.0" fill="none" />
<circle cx="273.7" cy="520.6" r="3.5" stroke="#262626" stroke-width="1.0" fill="none" />
<line x1="263.7" y1="520.6" x2="283.7" y2="520.6" stroke="#262626" stroke-width="1.0" />
<line x1="273.7" y1="510.6" x2="273.7" y2="530.6" stroke="#262626" stroke-width="1.0" />
<circle cx="355.9" cy="520.6" r="6.2" stroke="#262626" stroke-width="1.0" fill="none" />
<circle cx="355.9" cy="520.6" r="3.5" stroke="#262626" stroke-width="1.0" fill="none" />
<line x1="345.9" y1="520.6" x2="365.9" y2="520.6" stroke="#262626" stroke-width="1.0" />
<line x1="355.9" y1="510.6" x2="355.9" y2="530.6" stroke="#262626" stroke-width="1.0" />
<circle cx="273.7" cy="571" r="6.2" stroke="#262626" stroke-width="1.0" fill="none" />
<circle cx="273.7" cy="571" r="3.5" stroke="#262626" stroke-width="1.0" fill="none" />
<line x1="263.7" y1="571" x2="283.7" y2="571" stroke="#262626" stroke-width="1.0" />
<line x1="273.7" y1="561" x2="273.7" y2="581" stroke="#262626" stroke-width="1.0" />
<circle cx="355.9" cy="571" r="6.2" stroke="#262626" stroke-width="1.0" fill="none" />
<circle cx="355.9" cy="571" r="3.5" stroke="#262626" stroke-width="1.0" fill="none" />
<line x1="345.9" y1="571" x2="365.9" y2="571" stroke="#262626" stroke-width="1.0" />
<line x1="355.9" y1="561" x2="355.9" y2="581" stroke="#262626" stroke-width="1.0" />
<line x1="273.7" y1="581" x2="273.7" y2="646" stroke="#262626" stroke-width="1.0" />
<line x1="355.9" y1="581" x2="355.9" y2="646" stroke="#262626" stroke-width="1.0" />
<line x1="256.6" y1="582.6" x2="256.6" y2="646" stroke="#262626" stroke-width="1.0" />
<line x1="372" y1="582.6" x2="372" y2="642.5" stroke="#262626" stroke-width="1.0" />
<line x1="372" y1="522.5" x2="381.7" y2="522.5" stroke="#262626" stroke-width="1.1" />
<line x1="372" y1="529.2" x2="407.5" y2="529.2" stroke="#262626" stroke-width="1.1" />
<line x1="372" y1="568.3" x2="381.7" y2="568.3" stroke="#262626" stroke-width="1.1" />
<line x1="372" y1="562.5" x2="407.5" y2="562.5" stroke="#262626" stroke-width="1.1" />
<path d="M381.7,529.2 L381.7,523 Q381.7,518.3 386.4,518.3 L404.5,518.3 Q407.5,518.3 407.5,521.3" stroke="#262626" stroke-width="1.1" fill="none" />
<path d="M381.7,562.5 L381.7,568.6 Q381.7,573.3 386.4,573.3 L404.5,573.3 Q407.5,573.3 407.5,570.3" stroke="#262626" stroke-width="1.1" fill="none" />
<line x1="390" y1="519.6" x2="390" y2="524.8" stroke="#444" stroke-width="2.2" />
<line x1="398.3" y1="519.6" x2="398.3" y2="524.8" stroke="#444" stroke-width="2.2" />
<line x1="395" y1="473" x2="395" y2="518.3" stroke="#262626" stroke-width="1.0" />
<line x1="381.7" y1="534.7" x2="407.5" y2="534.7" stroke="#666" stroke-width="2.6" stroke-dasharray="3.5,2.5"/>
<line x1="381.7" y1="557.5" x2="407.5" y2="557.5" stroke="#666" stroke-width="2.6" stroke-dasharray="3.5,2.5"/>
<line x1="407.5" y1="473" x2="407.5" y2="619.7" stroke="#262626" stroke-width="1.1" />
<line x1="421.7" y1="473" x2="421.7" y2="619.7" stroke="#262626" stroke-width="1.1" />
<line x1="407.5" y1="619.7" x2="421.7" y2="619.7" stroke="#262626" stroke-width="1.1" />
<line x1="407.6" y1="619.7" x2="407.6" y2="644.7" stroke="#262626" stroke-width="1.0" />
<line x1="407.5" y1="508.3" x2="421.7" y2="508.3" stroke="#262626" stroke-width="1.0" />
<line x1="407.5" y1="584.2" x2="421.7" y2="584.2" stroke="#777" stroke-width="1.0" />
<path d="M407.5,499.2 L468,499.2 L468,672" stroke="#262626" stroke-width="1.1" fill="none" />
<line x1="421.7" y1="591.7" x2="468" y2="591.7" stroke="#262626" stroke-width="1.1" />
<circle cx="452" cy="516.7" r="7.75" stroke="#262626" stroke-width="1.0" fill="none" />
<line x1="441.5" y1="516.7" x2="462.5" y2="516.7" stroke="#262626" stroke-width="1.0" />
<line x1="452" y1="506.20000000000005" x2="452" y2="527.2" stroke="#262626" stroke-width="1.0" />
<circle cx="452" cy="575.5" r="7.75" stroke="#262626" stroke-width="1.0" fill="none" />
<line x1="441.5" y1="575.5" x2="462.5" y2="575.5" stroke="#262626" stroke-width="1.0" />
<line x1="452" y1="565.0" x2="452" y2="586.0" stroke="#262626" stroke-width="1.0" />
<line x1="452" y1="585" x2="452" y2="660.8" stroke="#262626" stroke-width="1.0" />
<path d="M421.7,517.5 L430,517.5 L434.2,524.4 L434.2,566.5 L430,574.7 L421.7,574.7" stroke="#262626" stroke-width="1.1" fill="none" />
<path d="M421.7,526.7 L429.5,526.7 Q435.5,536 429.5,545.5 Q435.5,555.5 429.5,565 L421.7,565" stroke="#262626" stroke-width="1.1" fill="none" />
<line x1="421.7" y1="545.5" x2="429.5" y2="545.5" stroke="#262626" stroke-width="1.1" />
<path d="M434.2,534.2 L442.2,534.2 Q444.2,534.2 444.2,536.2 L444.2,555.5 Q444.2,557.5 442.2,557.5 L434.2,557.5" stroke="#262626" stroke-width="1.1" fill="none" />
<line x1="444" y1="473" x2="444" y2="534.2" stroke="#262626" stroke-width="1.0" />
<line x1="383.3" y1="478.3" x2="394.6" y2="478.3" stroke="#262626" stroke-width="0.9" />
<path d="M394.60,478.30 L390.10,479.60 L390.10,477.00 z" fill="#262626"/>
<line x1="395" y1="478.3" x2="407.4" y2="478.3" stroke="#262626" stroke-width="0.9" />
<path d="M395.00,478.30 L399.00,477.10 L399.00,479.50 z" fill="#262626"/>
<path d="M407.40,478.30 L403.40,479.50 L403.40,477.10 z" fill="#262626"/>
<text x="401" y="476.5" font-size="9" text-anchor="middle" fill="#2a2a2a" >G</text>
<line x1="407.6" y1="478.3" x2="421.3" y2="478.3" stroke="#262626" stroke-width="0.9" />
<path d="M407.60,478.30 L411.60,477.10 L411.60,479.50 z" fill="#262626"/>
<path d="M421.30,478.30 L417.30,479.50 L417.30,477.10 z" fill="#262626"/>
<text x="415.3" y="476.5" font-size="9" text-anchor="middle" fill="#2a2a2a" >T</text>
<line x1="421.8" y1="478.3" x2="443.8" y2="478.3" stroke="#262626" stroke-width="0.9" />
<path d="M421.80,478.30 L426.30,477.00 L426.30,479.60 z" fill="#262626"/>
<path d="M443.80,478.30 L439.30,479.60 L439.30,477.00 z" fill="#262626"/>
<text x="433" y="476.5" font-size="9.5" text-anchor="middle" fill="#2a2a2a" >N</text>
<text x="468.8" y="495" font-size="9" text-anchor="start" fill="#2a2a2a" textLength="21.5" lengthAdjust="spacingAndGlyphs">4−ϕB</text>
<line x1="468" y1="496.3" x2="489" y2="496.3" stroke="#262626" stroke-width="0.9" />
<line x1="468" y1="496.3" x2="453.3" y2="515" stroke="#262626" stroke-width="0.9" />
<path d="M453.30,515.00 L455.06,510.66 L457.10,512.27 z" fill="#262626"/>
<line x1="441.7" y1="516.7" x2="490" y2="516.7" stroke="#262626" stroke-width="1.0" />
<line x1="442" y1="575.3" x2="488.5" y2="575.3" stroke="#262626" stroke-width="1.0" />
<line x1="484.7" y1="517.2" x2="484.7" y2="574.8" stroke="#262626" stroke-width="0.9" />
<path d="M484.70,517.20 L486.00,521.70 L483.40,521.70 z" fill="#262626"/>
<path d="M484.70,574.80 L483.40,570.30 L486.00,570.30 z" fill="#262626"/>
<text x="0" y="0" font-size="8" text-anchor="middle" fill="#2a2a2a" transform="translate(481.4,544.4) rotate(-90)">QW</text>
<line x1="151.4" y1="591.6" x2="180.7" y2="591.6" stroke="#262626" stroke-width="1.1" />
<line x1="151.4" y1="607.3" x2="180.7" y2="607.3" stroke="#262626" stroke-width="1.1" />
<rect x="180.7" y="587.5" width="66.80000000000001" height="33.0" rx="0" stroke="#262626" stroke-width="1.1" fill="none" />
<line x1="247.5" y1="591.6" x2="282.8" y2="591.6" stroke="#262626" stroke-width="1.1" />
<line x1="247.5" y1="607.3" x2="282.8" y2="607.3" stroke="#262626" stroke-width="1.1" />
<rect x="282.8" y="587.5" width="66.09999999999997" height="31.799999999999955" rx="0" stroke="#262626" stroke-width="1.1" fill="none" />
<line x1="348.9" y1="591.7" x2="407.5" y2="591.7" stroke="#262626" stroke-width="1.1" />
<line x1="348.9" y1="607.4" x2="407.5" y2="607.4" stroke="#262626" stroke-width="1.1" />
<line x1="71" y1="600.4" x2="466" y2="600.4" stroke="#262626" stroke-width="1.0" stroke-dasharray="4,3.2,15.8,3.6"/>
<line x1="97.9" y1="545.7" x2="440" y2="545.7" stroke="#262626" stroke-width="1.0" stroke-dasharray="3.7,2.9,15.7,4.4"/>
<line x1="256.6" y1="641.7" x2="273.7" y2="641.7" stroke="#262626" stroke-width="0.9" />
<path d="M256.60,641.70 L261.10,640.40 L261.10,643.00 z" fill="#262626"/>
<path d="M273.70,641.70 L269.20,643.00 L269.20,640.40 z" fill="#262626"/>
<text x="265" y="640" font-size="13" text-anchor="middle" fill="#2a2a2a" >K</text>
<line x1="273.7" y1="641.7" x2="355.9" y2="641.7" stroke="#262626" stroke-width="0.9" />
<path d="M273.70,641.70 L278.70,640.40 L278.70,643.00 z" fill="#262626"/>
<path d="M355.90,641.70 L350.90,643.00 L350.90,640.40 z" fill="#262626"/>
<text x="312.7" y="641" font-size="13" text-anchor="middle" fill="#2a2a2a" >W</text>
<line x1="372" y1="640.2" x2="407.6" y2="640.2" stroke="#262626" stroke-width="0.9" />
<path d="M372.00,640.20 L377.00,638.90 L377.00,641.50 z" fill="#262626"/>
<path d="M407.60,640.20 L402.60,641.50 L402.60,638.90 z" fill="#262626"/>
<text x="392" y="637" font-size="13" text-anchor="middle" fill="#2a2a2a" >A</text>
<line x1="407.6" y1="640.2" x2="452" y2="640.2" stroke="#262626" stroke-width="0.9" />
<path d="M407.60,640.20 L412.60,638.90 L412.60,641.50 z" fill="#262626"/>
<path d="M452.00,640.20 L447.00,641.50 L447.00,638.90 z" fill="#262626"/>
<text x="426.5" y="636" font-size="9" text-anchor="middle" fill="#2a2a2a" >BA</text>
<line x1="452" y1="640.2" x2="468.2" y2="640.2" stroke="#262626" stroke-width="0.9" />
<path d="M452.00,640.20 L456.00,639.00 L456.00,641.40 z" fill="#262626"/>
<path d="M468.20,640.20 L464.20,641.40 L464.20,639.00 z" fill="#262626"/>
<text x="459.7" y="635" font-size="9" text-anchor="middle" fill="#2a2a2a" >BC</text>
<line x1="107.8" y1="656" x2="452" y2="656" stroke="#262626" stroke-width="0.9" />
<path d="M107.80,656.00 L112.80,654.70 L112.80,657.30 z" fill="#262626"/>
<path d="M452.00,656.00 L447.00,657.30 L447.00,654.70 z" fill="#262626"/>
<text x="286.7" y="654.5" font-size="11" text-anchor="middle" fill="#2a2a2a" >Q+S</text>
<line x1="92.1" y1="670.2" x2="468.2" y2="670.2" stroke="#262626" stroke-width="0.9" />
<path d="M92.10,670.20 L97.10,668.90 L97.10,671.50 z" fill="#262626"/>
<path d="M468.20,670.20 L463.20,671.50 L463.20,668.90 z" fill="#262626"/>
<text x="286.7" y="668.3" font-size="11" text-anchor="middle" fill="#2a2a2a" >Z+S</text>
<text x="156.3" y="681.8" font-size="8" text-anchor="middle" fill="#2a2a2a" >开关</text>
<line x1="146" y1="686.2" x2="168" y2="686.2" stroke="#262626" stroke-width="0.9" />
<line x1="168" y1="686.2" x2="204.5" y2="615" stroke="#262626" stroke-width="0.9" />
<text x="201.3" y="681.8" font-size="8" text-anchor="middle" fill="#2a2a2a" >开关导线</text>
<line x1="181" y1="686.2" x2="220" y2="686.2" stroke="#262626" stroke-width="0.9" />
<line x1="220" y1="686.2" x2="253.3" y2="605" stroke="#262626" stroke-width="0.9" />
<text x="600" y="418" font-size="13.5" text-anchor="middle" fill="#2a2a2a" stroke="#2a2a2a" stroke-width="0.3" letter-spacing="0.4">A向旋转</text>
<rect x="559" y="427.9" width="76.29999999999995" height="13.900000000000034" rx="0" stroke="#262626" stroke-width="1.1" fill="none" />
<line x1="635.3" y1="427.9" x2="702.4" y2="427.9" stroke="#262626" stroke-width="1.0" />
<path d="M559,441.8 L551,450.3 L551,670" stroke="#262626" stroke-width="1.1" fill="none" />
<path d="M635.3,441.8 L643.2,450.3 L643.2,666" stroke="#262626" stroke-width="1.1" fill="none" />
<path d="M643.2,449.9 L670.3,449.9 L670.3,509.4" stroke="#262626" stroke-width="1.1" fill="none" />
<line x1="643.2" y1="460.7" x2="670.3" y2="460.7" stroke="#262626" stroke-width="1.0" />
<circle cx="652" cy="477.8" r="8.3" stroke="#262626" stroke-width="1.0" fill="none" />
<path d="M660.3,478.5 L660.3,486 L670.3,486" stroke="#262626" stroke-width="1.0" fill="none" />
<line x1="637" y1="477.8" x2="666" y2="477.8" stroke="#555" stroke-width="0.9" stroke-dasharray="4,2"/>
<line x1="651.7" y1="464" x2="651.7" y2="492" stroke="#555" stroke-width="0.9" stroke-dasharray="4,2"/>
<text x="656.8" y="503" font-size="9.5" text-anchor="middle" fill="#2a2a2a" >16</text>
<line x1="646.4" y1="504.8" x2="668" y2="504.8" stroke="#262626" stroke-width="0.9" />
<circle cx="597.2" cy="466" r="17.2" stroke="#262626" stroke-width="1.1" fill="none" />
<line x1="574" y1="466" x2="621" y2="466" stroke="#262626" stroke-width="1.0" stroke-dasharray="6,3"/>
<path d="M597.20,483.20 L617.55,494.95 L617.55,518.45 L597.20,530.20 L576.85,518.45 L576.85,494.95 Z" stroke="#262626" stroke-width="1.0" fill="none" stroke-dasharray="6,3"/>
<circle cx="597.2" cy="506.7" r="14.9" stroke="#262626" stroke-width="1.0" fill="none" stroke-dasharray="5,3"/>
<line x1="562" y1="506.7" x2="630" y2="506.7" stroke="#262626" stroke-width="1.0" stroke-dasharray="6,3"/>
<path d="M597.20,532.60 L622.75,547.35 L622.75,576.85 L597.20,591.60 L571.65,576.85 L571.65,547.35 Z" stroke="#262626" stroke-width="1.1" fill="none" />
<circle cx="597.2" cy="562.1" r="19.7" stroke="#262626" stroke-width="1.1" fill="none" />
<line x1="562.6" y1="562.1" x2="629.5" y2="562.1" stroke="#262626" stroke-width="1.0" stroke-dasharray="6,3"/>
<line x1="597.5" y1="422.6" x2="597.5" y2="630" stroke="#262626" stroke-width="1.0" stroke-dasharray="9,3,2,3"/>
<line x1="551" y1="606.3" x2="668.2" y2="606.3" stroke="#262626" stroke-width="1.1" />
<line x1="551" y1="619.5" x2="703.7" y2="619.5" stroke="#262626" stroke-width="1.1" />
<line x1="569.5" y1="599" x2="569.5" y2="624" stroke="#262626" stroke-width="1.0" stroke-dasharray="4,2"/>
<line x1="627.4" y1="599" x2="627.4" y2="624" stroke="#262626" stroke-width="1.0" stroke-dasharray="4,2"/>
<line x1="561.6" y1="607" x2="561.6" y2="619" stroke="#888" stroke-width="1.0" stroke-dasharray="3,1.5"/>
<line x1="577.4" y1="607" x2="577.4" y2="619" stroke="#888" stroke-width="1.0" stroke-dasharray="3,1.5"/>
<line x1="619.5" y1="607" x2="619.5" y2="619" stroke="#888" stroke-width="1.0" stroke-dasharray="3,1.5"/>
<line x1="635.3" y1="607" x2="635.3" y2="619" stroke="#888" stroke-width="1.0" stroke-dasharray="3,1.5"/>
<line x1="664.2" y1="606.8" x2="664.2" y2="619" stroke="#262626" stroke-width="0.9" />
<path d="M664.20,606.80 L665.30,610.30 L663.10,610.30 z" fill="#262626"/>
<path d="M664.20,619.00 L663.10,615.50 L665.30,615.50 z" fill="#262626"/>
<text x="0" y="0" font-size="8" text-anchor="middle" fill="#2a2a2a" transform="translate(659,612.6) rotate(-90)">T</text>
<line x1="695.3" y1="428.4" x2="695.3" y2="619" stroke="#262626" stroke-width="0.9" />
<path d="M695.30,428.40 L696.60,433.40 L694.00,433.40 z" fill="#262626"/>
<path d="M695.30,619.00 L694.00,614.00 L696.60,614.00 z" fill="#262626"/>
<text x="0" y="0" font-size="8" text-anchor="middle" fill="#2a2a2a" transform="translate(692,524) rotate(-90)">H</text>
<line x1="551.5" y1="662.6" x2="643.2" y2="662.6" stroke="#262626" stroke-width="0.9" />
<path d="M551.50,662.60 L556.50,661.30 L556.50,663.90 z" fill="#262626"/>
<path d="M643.20,662.60 L638.20,663.90 L638.20,661.30 z" fill="#262626"/>
<text x="594" y="658" font-size="9.5" text-anchor="middle" fill="#2a2a2a" >PW</text>
</svg></body></html>
